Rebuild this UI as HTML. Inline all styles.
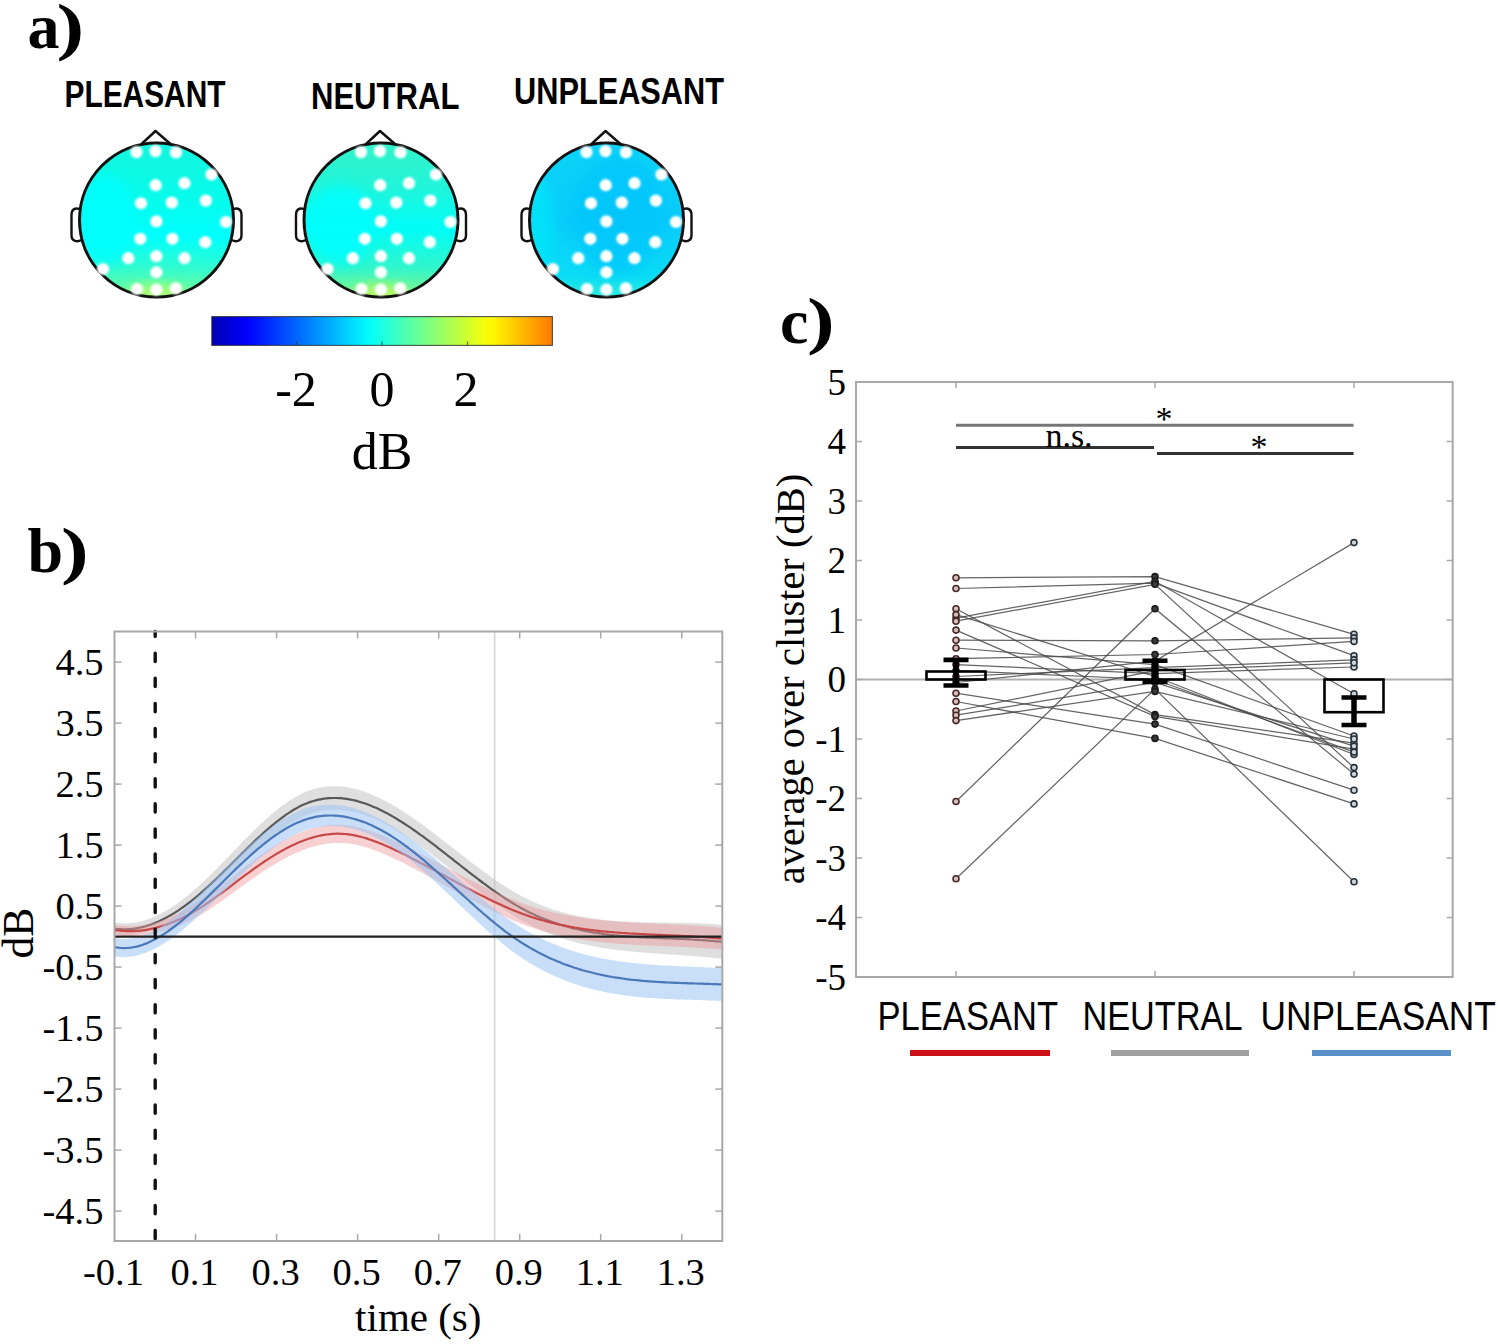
<!DOCTYPE html><html><head><meta charset="utf-8"><style>html,body{margin:0;padding:0;background:#fff;overflow:hidden;width:1498px;height:1344px;}svg{display:block}</style></head><body><svg width="1498" height="1344" viewBox="0 0 1498 1344"><text x="27.6" y="48.0" font-family='"Liberation Serif", serif' font-size="64" font-weight="bold" text-anchor="start" fill="#000" >a</text>
<text transform="translate(56.4,48) scale(1.3,1)" font-family='"Liberation Serif", serif' font-size="64" font-weight="bold">)</text>
<text x="145.0" y="106.5" font-family='"Liberation Sans", sans-serif' font-size="37" font-weight="bold" text-anchor="middle" textLength="161.0" lengthAdjust="spacingAndGlyphs">PLEASANT</text>
<text x="385.2" y="109.2" font-family='"Liberation Sans", sans-serif' font-size="37" font-weight="bold" text-anchor="middle" textLength="148.5" lengthAdjust="spacingAndGlyphs">NEUTRAL</text>
<text x="619.0" y="104.3" font-family='"Liberation Sans", sans-serif' font-size="37" font-weight="bold" text-anchor="middle" textLength="210.0" lengthAdjust="spacingAndGlyphs">UNPLEASANT</text>
<defs>
<filter id="blur1" x="-50%" y="-50%" width="200%" height="200%"><feGaussianBlur stdDeviation="1.1"/></filter>
<filter id="blur2" x="-20%" y="-20%" width="140%" height="140%"><feGaussianBlur stdDeviation="6"/></filter>
<clipPath id="clipp"><circle cx="156.5" cy="220" r="77"/></clipPath>
<clipPath id="clipn"><circle cx="381" cy="220" r="77"/></clipPath>
<clipPath id="clipu"><circle cx="606.5" cy="220" r="77"/></clipPath>
<linearGradient id="gp" x1="0" y1="0" x2="0" y2="1">
<stop offset="0" stop-color="#14f5dc"/><stop offset="0.35" stop-color="#08fbeb"/><stop offset="0.6" stop-color="#00fffd"/><stop offset="0.8" stop-color="#30fbd0"/><stop offset="1" stop-color="#80ff90"/></linearGradient>
<linearGradient id="gn" x1="0" y1="0" x2="0" y2="1">
<stop offset="0" stop-color="#34f2c8"/><stop offset="0.3" stop-color="#20f5da"/><stop offset="0.55" stop-color="#00fcf8"/><stop offset="0.8" stop-color="#30f6cc"/><stop offset="1" stop-color="#90f880"/></linearGradient>
<linearGradient id="gu" x1="0" y1="0" x2="0" y2="1">
<stop offset="0" stop-color="#0cd4f8"/><stop offset="0.5" stop-color="#08cbfa"/><stop offset="0.85" stop-color="#0adcf6"/><stop offset="1" stop-color="#30f0d8"/></linearGradient>
<linearGradient id="jet" x1="0" y1="0" x2="1" y2="0">
<stop offset="0.000" stop-color="#0000b2"/>
<stop offset="0.025" stop-color="#0000c4"/>
<stop offset="0.050" stop-color="#0000d6"/>
<stop offset="0.075" stop-color="#0000e8"/>
<stop offset="0.100" stop-color="#0000fa"/>
<stop offset="0.125" stop-color="#000dff"/>
<stop offset="0.150" stop-color="#001fff"/>
<stop offset="0.175" stop-color="#0031ff"/>
<stop offset="0.200" stop-color="#0043ff"/>
<stop offset="0.225" stop-color="#0055ff"/>
<stop offset="0.250" stop-color="#0067ff"/>
<stop offset="0.275" stop-color="#0079ff"/>
<stop offset="0.300" stop-color="#008bff"/>
<stop offset="0.325" stop-color="#009dff"/>
<stop offset="0.350" stop-color="#00afff"/>
<stop offset="0.375" stop-color="#00c1ff"/>
<stop offset="0.400" stop-color="#00d3ff"/>
<stop offset="0.425" stop-color="#00e5ff"/>
<stop offset="0.450" stop-color="#00f7ff"/>
<stop offset="0.475" stop-color="#0afff4"/>
<stop offset="0.500" stop-color="#1cffe2"/>
<stop offset="0.525" stop-color="#2effd0"/>
<stop offset="0.550" stop-color="#40ffbe"/>
<stop offset="0.575" stop-color="#52ffac"/>
<stop offset="0.600" stop-color="#64ff9a"/>
<stop offset="0.625" stop-color="#76ff88"/>
<stop offset="0.650" stop-color="#88ff76"/>
<stop offset="0.675" stop-color="#9aff64"/>
<stop offset="0.700" stop-color="#acff52"/>
<stop offset="0.725" stop-color="#beff40"/>
<stop offset="0.750" stop-color="#d0ff2e"/>
<stop offset="0.775" stop-color="#e2ff1c"/>
<stop offset="0.800" stop-color="#f4ff0a"/>
<stop offset="0.825" stop-color="#fff700"/>
<stop offset="0.850" stop-color="#ffe500"/>
<stop offset="0.875" stop-color="#ffd300"/>
<stop offset="0.900" stop-color="#ffc100"/>
<stop offset="0.925" stop-color="#ffaf00"/>
<stop offset="0.950" stop-color="#ff9d00"/>
<stop offset="0.975" stop-color="#ff8b00"/>
<stop offset="1.000" stop-color="#ff7900"/>
</linearGradient>
</defs>
<path d="M81.5,210 C77.5,207.5 71.5,207.5 71.5,215 L71.5,235 C71.5,242 77.5,242 81.5,240" fill="#fff" stroke="#111" stroke-width="2.4"/>
<path d="M231.5,210 C235.5,207.5 241.5,207.5 241.5,215 L241.5,235 C241.5,242 235.5,242 231.5,240" fill="#fff" stroke="#111" stroke-width="2.4"/>
<path d="M141.5,144 L155.5,131 L170.5,144" fill="#fff" stroke="#111" stroke-width="2.4" stroke-linejoin="round"/>
<g clip-path="url(#clipp)"><rect x="76.5" y="140" width="160" height="160" fill="url(#gp)"/>
<ellipse cx="106.5" cy="220" rx="30" ry="45" fill="#00ffff" opacity="0.8" filter="url(#blur2)"/>
<ellipse cx="156.5" cy="298" rx="30" ry="14" fill="#b0ff70" opacity="0.9" filter="url(#blur2)"/>
</g>
<circle cx="156.5" cy="220" r="77" fill="none" stroke="#111" stroke-width="3"/>
<g filter="url(#blur1)" fill="#fff">
<circle cx="136.5" cy="152.1" r="6.1"/>
<circle cx="155.5" cy="151.1" r="6.1"/>
<circle cx="176.0" cy="152.4" r="6.1"/>
<circle cx="211.5" cy="174.5" r="6.1"/>
<circle cx="155.7" cy="185.2" r="6.1"/>
<circle cx="184.5" cy="183.2" r="6.1"/>
<circle cx="141.0" cy="203.3" r="6.1"/>
<circle cx="171.8" cy="202.6" r="6.1"/>
<circle cx="205.9" cy="200.6" r="6.1"/>
<circle cx="156.4" cy="221.4" r="6.1"/>
<circle cx="226.0" cy="222.0" r="6.1"/>
<circle cx="140.3" cy="238.8" r="6.1"/>
<circle cx="172.4" cy="238.8" r="6.1"/>
<circle cx="205.3" cy="242.2" r="6.1"/>
<circle cx="128.3" cy="258.2" r="6.1"/>
<circle cx="156.4" cy="256.2" r="6.1"/>
<circle cx="184.5" cy="258.2" r="6.1"/>
<circle cx="103.0" cy="269.0" r="6.1"/>
<circle cx="156.4" cy="272.3" r="6.1"/>
<circle cx="137.0" cy="289.0" r="6.1"/>
<circle cx="156.4" cy="289.7" r="6.1"/>
<circle cx="175.8" cy="288.4" r="6.1"/>
</g>
<path d="M306.0,210 C302.0,207.5 296.0,207.5 296.0,215 L296.0,235 C296.0,242 302.0,242 306.0,240" fill="#fff" stroke="#111" stroke-width="2.4"/>
<path d="M456.0,210 C460.0,207.5 466.0,207.5 466.0,215 L466.0,235 C466.0,242 460.0,242 456.0,240" fill="#fff" stroke="#111" stroke-width="2.4"/>
<path d="M366,144 L380,131 L395,144" fill="#fff" stroke="#111" stroke-width="2.4" stroke-linejoin="round"/>
<g clip-path="url(#clipn)"><rect x="301" y="140" width="160" height="160" fill="url(#gn)"/>
<ellipse cx="341" cy="225" rx="35" ry="40" fill="#00ffff" opacity="0.8" filter="url(#blur2)"/>
<ellipse cx="381" cy="298" rx="28" ry="14" fill="#b8f860" opacity="0.9" filter="url(#blur2)"/>
</g>
<circle cx="381" cy="220" r="77" fill="none" stroke="#111" stroke-width="3"/>
<g filter="url(#blur1)" fill="#fff">
<circle cx="361.0" cy="152.1" r="6.1"/>
<circle cx="380.0" cy="151.1" r="6.1"/>
<circle cx="400.5" cy="152.4" r="6.1"/>
<circle cx="436.0" cy="174.5" r="6.1"/>
<circle cx="380.2" cy="185.2" r="6.1"/>
<circle cx="409.0" cy="183.2" r="6.1"/>
<circle cx="365.5" cy="203.3" r="6.1"/>
<circle cx="396.3" cy="202.6" r="6.1"/>
<circle cx="430.4" cy="200.6" r="6.1"/>
<circle cx="380.9" cy="221.4" r="6.1"/>
<circle cx="450.5" cy="222.0" r="6.1"/>
<circle cx="364.8" cy="238.8" r="6.1"/>
<circle cx="396.9" cy="238.8" r="6.1"/>
<circle cx="429.8" cy="242.2" r="6.1"/>
<circle cx="352.8" cy="258.2" r="6.1"/>
<circle cx="380.9" cy="256.2" r="6.1"/>
<circle cx="409.0" cy="258.2" r="6.1"/>
<circle cx="327.5" cy="269.0" r="6.1"/>
<circle cx="380.9" cy="272.3" r="6.1"/>
<circle cx="361.5" cy="289.0" r="6.1"/>
<circle cx="380.9" cy="289.7" r="6.1"/>
<circle cx="400.3" cy="288.4" r="6.1"/>
</g>
<path d="M531.5,210 C527.5,207.5 521.5,207.5 521.5,215 L521.5,235 C521.5,242 527.5,242 531.5,240" fill="#fff" stroke="#111" stroke-width="2.4"/>
<path d="M681.5,210 C685.5,207.5 691.5,207.5 691.5,215 L691.5,235 C691.5,242 685.5,242 681.5,240" fill="#fff" stroke="#111" stroke-width="2.4"/>
<path d="M591.5,144 L605.5,131 L620.5,144" fill="#fff" stroke="#111" stroke-width="2.4" stroke-linejoin="round"/>
<g clip-path="url(#clipu)"><rect x="526.5" y="140" width="160" height="160" fill="url(#gu)"/>
<ellipse cx="618.5" cy="215" rx="45" ry="60" fill="#02c4fc" opacity="0.6" filter="url(#blur2)"/>
<ellipse cx="536.5" cy="230" rx="18" ry="55" fill="#00e6fa" opacity="0.75" filter="url(#blur2)"/>
</g>
<circle cx="606.5" cy="220" r="77" fill="none" stroke="#111" stroke-width="3"/>
<g filter="url(#blur1)" fill="#fff">
<circle cx="586.5" cy="152.1" r="6.1"/>
<circle cx="605.5" cy="151.1" r="6.1"/>
<circle cx="626.0" cy="152.4" r="6.1"/>
<circle cx="661.5" cy="174.5" r="6.1"/>
<circle cx="605.7" cy="185.2" r="6.1"/>
<circle cx="634.5" cy="183.2" r="6.1"/>
<circle cx="591.0" cy="203.3" r="6.1"/>
<circle cx="621.8" cy="202.6" r="6.1"/>
<circle cx="655.9" cy="200.6" r="6.1"/>
<circle cx="606.4" cy="221.4" r="6.1"/>
<circle cx="676.0" cy="222.0" r="6.1"/>
<circle cx="590.3" cy="238.8" r="6.1"/>
<circle cx="622.4" cy="238.8" r="6.1"/>
<circle cx="655.3" cy="242.2" r="6.1"/>
<circle cx="578.3" cy="258.2" r="6.1"/>
<circle cx="606.4" cy="256.2" r="6.1"/>
<circle cx="634.5" cy="258.2" r="6.1"/>
<circle cx="553.0" cy="269.0" r="6.1"/>
<circle cx="606.4" cy="272.3" r="6.1"/>
<circle cx="587.0" cy="289.0" r="6.1"/>
<circle cx="606.4" cy="289.7" r="6.1"/>
<circle cx="625.8" cy="288.4" r="6.1"/>
</g>
<rect x="211.8" y="316.6" width="340.6" height="28.8" fill="url(#jet)" stroke="#2a2a2a" stroke-width="1.1" stroke-opacity="0.8"/>
<line x1="296.5" y1="341.5" x2="296.5" y2="345" stroke="#333" stroke-width="1.2" stroke-opacity="0.7"/>
<line x1="382" y1="341.5" x2="382" y2="345" stroke="#333" stroke-width="1.2" stroke-opacity="0.7"/>
<line x1="467.5" y1="341.5" x2="467.5" y2="345" stroke="#333" stroke-width="1.2" stroke-opacity="0.7"/>
<text x="296.0" y="406.0" font-family='"Liberation Serif", serif' font-size="50" font-weight="normal" text-anchor="middle" fill="#000" >-2</text>
<text x="382.0" y="406.0" font-family='"Liberation Serif", serif' font-size="50" font-weight="normal" text-anchor="middle" fill="#000" >0</text>
<text x="466.0" y="406.0" font-family='"Liberation Serif", serif' font-size="50" font-weight="normal" text-anchor="middle" fill="#000" >2</text>
<text x="382.0" y="469.0" font-family='"Liberation Serif", serif' font-size="52" font-weight="normal" text-anchor="middle" fill="#000" >dB</text>
<text x="27.6" y="572.0" font-family='"Liberation Serif", serif' font-size="64" font-weight="bold" text-anchor="start" fill="#000" >b</text>
<text transform="translate(60.9,571.5) scale(1.3,1)" font-family='"Liberation Serif", serif' font-size="64" font-weight="bold">)</text>
<rect x="114.5" y="631.5" width="607.8" height="609.5" fill="#fff" stroke="none"/>
<line x1="494.6" y1="631.5" x2="494.6" y2="1241" stroke="#d4d4d4" stroke-width="1.6"/>
<path d="M114.5,922.5 L116.5,922.8 L118.5,923.0 L120.5,923.2 L122.5,923.3 L124.5,923.4 L126.5,923.4 L128.5,923.3 L130.5,923.1 L132.5,922.9 L134.5,922.7 L136.5,922.3 L138.5,921.9 L140.5,921.5 L142.5,920.9 L144.5,920.4 L146.5,919.7 L148.5,919.1 L150.5,918.3 L152.5,917.5 L154.5,916.7 L156.5,915.8 L158.5,914.8 L160.5,913.8 L162.5,912.7 L164.5,911.6 L166.5,910.5 L168.5,909.3 L170.5,908.0 L172.5,906.8 L174.5,905.4 L176.5,904.0 L178.5,902.6 L180.5,901.2 L182.5,899.6 L184.5,898.1 L186.5,896.5 L188.5,894.9 L190.5,893.2 L192.5,891.5 L194.5,889.8 L196.5,888.1 L198.5,886.3 L200.5,884.4 L202.5,882.6 L204.5,880.7 L206.5,878.8 L208.5,876.8 L210.5,874.9 L212.5,872.9 L214.5,870.9 L216.5,868.9 L218.5,866.9 L220.5,864.8 L222.5,862.8 L224.5,860.7 L226.5,858.7 L228.5,856.6 L230.5,854.5 L232.5,852.4 L234.5,850.4 L236.5,848.3 L238.5,846.2 L240.5,844.2 L242.5,842.1 L244.5,840.1 L246.5,838.0 L248.5,836.0 L250.5,834.0 L252.5,832.0 L254.5,830.1 L256.5,828.1 L258.5,826.2 L260.5,824.3 L262.5,822.4 L264.5,820.6 L266.5,818.8 L268.5,817.0 L270.5,815.2 L272.5,813.5 L274.5,811.8 L276.5,810.2 L278.5,808.6 L280.5,807.1 L282.5,805.5 L284.5,804.1 L286.5,802.7 L288.5,801.3 L290.5,800.0 L292.5,798.7 L294.5,797.5 L296.5,796.4 L298.5,795.3 L300.5,794.2 L302.5,793.3 L304.5,792.4 L306.5,791.5 L308.5,790.8 L310.5,790.1 L312.5,789.4 L314.5,788.8 L316.5,788.3 L318.5,787.8 L320.5,787.4 L322.5,787.1 L324.5,786.8 L326.5,786.6 L328.5,786.4 L330.5,786.3 L332.5,786.2 L334.5,786.2 L336.5,786.2 L338.5,786.3 L340.5,786.4 L342.5,786.6 L344.5,786.9 L346.5,787.1 L348.5,787.5 L350.5,787.9 L352.5,788.3 L354.5,788.8 L356.5,789.3 L358.5,789.8 L360.5,790.4 L362.5,791.0 L364.5,791.7 L366.5,792.4 L368.5,793.2 L370.5,794.0 L372.5,794.8 L374.5,795.7 L376.5,796.6 L378.5,797.5 L380.5,798.5 L382.5,799.5 L384.5,800.5 L386.5,801.5 L388.5,802.6 L390.5,803.7 L392.5,804.9 L394.5,806.1 L396.5,807.3 L398.5,808.5 L400.5,809.7 L402.5,811.0 L404.5,812.3 L406.5,813.6 L408.5,814.9 L410.5,816.3 L412.5,817.7 L414.5,819.0 L416.5,820.5 L418.5,821.9 L420.5,823.3 L422.5,824.8 L424.5,826.2 L426.5,827.7 L428.5,829.2 L430.5,830.7 L432.5,832.2 L434.5,833.7 L436.5,835.3 L438.5,836.8 L440.5,838.4 L442.5,839.9 L444.5,841.5 L446.5,843.0 L448.5,844.6 L450.5,846.1 L452.5,847.7 L454.5,849.3 L456.5,850.8 L458.5,852.4 L460.5,854.0 L462.5,855.5 L464.5,857.1 L466.5,858.6 L468.5,860.2 L470.5,861.7 L472.5,863.3 L474.5,864.8 L476.5,866.3 L478.5,867.8 L480.5,869.3 L482.5,870.8 L484.5,872.2 L486.5,873.7 L488.5,875.1 L490.5,876.6 L492.5,878.0 L494.5,879.4 L496.5,880.7 L498.5,882.1 L500.5,883.4 L502.5,884.7 L504.5,886.0 L506.5,887.3 L508.5,888.5 L510.5,889.8 L512.5,891.0 L514.5,892.1 L516.5,893.3 L518.5,894.4 L520.5,895.5 L522.5,896.5 L524.5,897.6 L526.5,898.6 L528.5,899.6 L530.5,900.5 L532.5,901.4 L534.5,902.3 L536.5,903.2 L538.5,904.0 L540.5,904.8 L542.5,905.6 L544.5,906.4 L546.5,907.2 L548.5,907.9 L550.5,908.6 L552.5,909.2 L554.5,909.9 L556.5,910.5 L558.5,911.1 L560.5,911.7 L562.5,912.3 L564.5,912.8 L566.5,913.3 L568.5,913.8 L570.5,914.3 L572.5,914.8 L574.5,915.2 L576.5,915.7 L578.5,916.1 L580.5,916.5 L582.5,916.8 L584.5,917.2 L586.5,917.5 L588.5,917.9 L590.5,918.2 L592.5,918.5 L594.5,918.8 L596.5,919.0 L598.5,919.3 L600.5,919.5 L602.5,919.8 L604.5,920.0 L606.5,920.2 L608.5,920.4 L610.5,920.5 L612.5,920.7 L614.5,920.9 L616.5,921.0 L618.5,921.2 L620.5,921.3 L622.5,921.4 L624.5,921.5 L626.5,921.6 L628.5,921.7 L630.5,921.8 L632.5,921.9 L634.5,922.0 L636.5,922.0 L638.5,922.1 L640.5,922.2 L642.5,922.2 L644.5,922.3 L646.5,922.3 L648.5,922.3 L650.5,922.4 L652.5,922.4 L654.5,922.4 L656.5,922.5 L658.5,922.5 L660.5,922.5 L662.5,922.6 L664.5,922.6 L666.5,922.6 L668.5,922.6 L670.5,922.7 L672.5,922.7 L674.5,922.7 L676.5,922.7 L678.5,922.8 L680.5,922.8 L682.5,922.8 L684.5,922.9 L686.5,922.9 L688.5,923.0 L690.5,923.0 L692.5,923.1 L694.5,923.2 L696.5,923.2 L698.5,923.3 L700.5,923.4 L702.5,923.5 L704.5,923.6 L706.5,923.7 L708.5,923.8 L710.5,923.9 L712.5,924.1 L714.5,924.2 L716.5,924.4 L718.5,924.5 L720.5,924.7 L722.3,924.9 L722.3,959.0 L720.5,958.8 L718.5,958.5 L716.5,958.3 L714.5,958.0 L712.5,957.8 L710.5,957.6 L708.5,957.4 L706.5,957.2 L704.5,957.0 L702.5,956.8 L700.5,956.6 L698.5,956.5 L696.5,956.3 L694.5,956.1 L692.5,956.0 L690.5,955.8 L688.5,955.7 L686.5,955.5 L684.5,955.4 L682.5,955.2 L680.5,955.1 L678.5,955.0 L676.5,954.8 L674.5,954.7 L672.5,954.6 L670.5,954.4 L668.5,954.3 L666.5,954.2 L664.5,954.1 L662.5,953.9 L660.5,953.8 L658.5,953.7 L656.5,953.5 L654.5,953.4 L652.5,953.3 L650.5,953.1 L648.5,953.0 L646.5,952.8 L644.5,952.7 L642.5,952.5 L640.5,952.3 L638.5,952.2 L636.5,952.0 L634.5,951.8 L632.5,951.6 L630.5,951.4 L628.5,951.2 L626.5,951.0 L624.5,950.8 L622.5,950.6 L620.5,950.4 L618.5,950.1 L616.5,949.9 L614.5,949.6 L612.5,949.4 L610.5,949.1 L608.5,948.8 L606.5,948.5 L604.5,948.2 L602.5,947.9 L600.5,947.5 L598.5,947.2 L596.5,946.8 L594.5,946.4 L592.5,946.0 L590.5,945.6 L588.5,945.2 L586.5,944.8 L584.5,944.3 L582.5,943.9 L580.5,943.4 L578.5,942.9 L576.5,942.4 L574.5,941.9 L572.5,941.3 L570.5,940.8 L568.5,940.2 L566.5,939.6 L564.5,939.0 L562.5,938.3 L560.5,937.7 L558.5,937.0 L556.5,936.3 L554.5,935.6 L552.5,934.8 L550.5,934.1 L548.5,933.3 L546.5,932.5 L544.5,931.7 L542.5,930.8 L540.5,929.9 L538.5,929.0 L536.5,928.1 L534.5,927.2 L532.5,926.2 L530.5,925.2 L528.5,924.2 L526.5,923.1 L524.5,922.1 L522.5,921.0 L520.5,919.8 L518.5,918.7 L516.5,917.5 L514.5,916.3 L512.5,915.1 L510.5,913.8 L508.5,912.5 L506.5,911.2 L504.5,909.9 L502.5,908.6 L500.5,907.2 L498.5,905.8 L496.5,904.4 L494.5,903.0 L492.5,901.6 L490.5,900.1 L488.5,898.6 L486.5,897.2 L484.5,895.7 L482.5,894.2 L480.5,892.6 L478.5,891.1 L476.5,889.6 L474.5,888.0 L472.5,886.5 L470.5,884.9 L468.5,883.4 L466.5,881.8 L464.5,880.2 L462.5,878.6 L460.5,877.1 L458.5,875.5 L456.5,873.9 L454.5,872.3 L452.5,870.7 L450.5,869.1 L448.5,867.6 L446.5,866.0 L444.5,864.4 L442.5,862.9 L440.5,861.3 L438.5,859.7 L436.5,858.2 L434.5,856.7 L432.5,855.1 L430.5,853.6 L428.5,852.1 L426.5,850.6 L424.5,849.1 L422.5,847.7 L420.5,846.2 L418.5,844.8 L416.5,843.4 L414.5,841.9 L412.5,840.6 L410.5,839.2 L408.5,837.8 L406.5,836.5 L404.5,835.2 L402.5,833.9 L400.5,832.7 L398.5,831.4 L396.5,830.2 L394.5,829.0 L392.5,827.9 L390.5,826.8 L388.5,825.7 L386.5,824.6 L384.5,823.5 L382.5,822.5 L380.5,821.5 L378.5,820.6 L376.5,819.7 L374.5,818.8 L372.5,818.0 L370.5,817.2 L368.5,816.4 L366.5,815.7 L364.5,815.0 L362.5,814.3 L360.5,813.7 L358.5,813.1 L356.5,812.6 L354.5,812.1 L352.5,811.7 L350.5,811.3 L348.5,810.9 L346.5,810.6 L344.5,810.3 L342.5,810.1 L340.5,809.9 L338.5,809.8 L336.5,809.7 L334.5,809.7 L332.5,809.8 L330.5,809.8 L328.5,810.0 L326.5,810.2 L324.5,810.4 L322.5,810.7 L320.5,811.1 L318.5,811.5 L316.5,812.0 L314.5,812.5 L312.5,813.1 L310.5,813.7 L308.5,814.4 L306.5,815.2 L304.5,816.0 L302.5,816.9 L300.5,817.9 L298.5,818.9 L296.5,820.0 L294.5,821.1 L292.5,822.3 L290.5,823.6 L288.5,824.8 L286.5,826.2 L284.5,827.6 L282.5,829.0 L280.5,830.5 L278.5,832.0 L276.5,833.5 L274.5,835.1 L272.5,836.8 L270.5,838.4 L268.5,840.1 L266.5,841.8 L264.5,843.6 L262.5,845.3 L260.5,847.1 L258.5,848.9 L256.5,850.8 L254.5,852.6 L252.5,854.5 L250.5,856.4 L248.5,858.2 L246.5,860.1 L244.5,862.1 L242.5,864.0 L240.5,865.9 L238.5,867.8 L236.5,869.7 L234.5,871.6 L232.5,873.6 L230.5,875.5 L228.5,877.4 L226.5,879.3 L224.5,881.1 L222.5,883.0 L220.5,884.9 L218.5,886.7 L216.5,888.5 L214.5,890.3 L212.5,892.1 L210.5,893.9 L208.5,895.6 L206.5,897.3 L204.5,899.0 L202.5,900.7 L200.5,902.3 L198.5,903.9 L196.5,905.5 L194.5,907.0 L192.5,908.5 L190.5,910.0 L188.5,911.4 L186.5,912.8 L184.5,914.1 L182.5,915.4 L180.5,916.7 L178.5,918.0 L176.5,919.2 L174.5,920.3 L172.5,921.4 L170.5,922.5 L168.5,923.5 L166.5,924.5 L164.5,925.5 L162.5,926.4 L160.5,927.3 L158.5,928.1 L156.5,928.9 L154.5,929.6 L152.5,930.3 L150.5,931.0 L148.5,931.6 L146.5,932.2 L144.5,932.7 L142.5,933.1 L140.5,933.6 L138.5,933.9 L136.5,934.3 L134.5,934.5 L132.5,934.8 L130.5,935.0 L128.5,935.1 L126.5,935.2 L124.5,935.2 L122.5,935.2 L120.5,935.1 L118.5,935.0 L116.5,934.8 L114.5,934.6Z" fill="#b8b8b8" fill-opacity="0.45" stroke="none"/>
<path d="M114.5,928.5 L116.5,928.8 L118.5,929.0 L120.5,929.2 L122.5,929.3 L124.5,929.3 L126.5,929.3 L128.5,929.2 L130.5,929.1 L132.5,928.9 L134.5,928.6 L136.5,928.3 L138.5,927.9 L140.5,927.5 L142.5,927.1 L144.5,926.5 L146.5,926.0 L148.5,925.3 L150.5,924.7 L152.5,923.9 L154.5,923.2 L156.5,922.3 L158.5,921.5 L160.5,920.6 L162.5,919.6 L164.5,918.6 L166.5,917.5 L168.5,916.4 L170.5,915.3 L172.5,914.1 L174.5,912.9 L176.5,911.6 L178.5,910.3 L180.5,908.9 L182.5,907.5 L184.5,906.1 L186.5,904.7 L188.5,903.1 L190.5,901.6 L192.5,900.0 L194.5,898.4 L196.5,896.8 L198.5,895.1 L200.5,893.4 L202.5,891.6 L204.5,889.8 L206.5,888.0 L208.5,886.2 L210.5,884.4 L212.5,882.5 L214.5,880.6 L216.5,878.7 L218.5,876.8 L220.5,874.8 L222.5,872.9 L224.5,870.9 L226.5,868.9 L228.5,867.0 L230.5,865.0 L232.5,863.0 L234.5,861.0 L236.5,859.0 L238.5,857.0 L240.5,855.0 L242.5,853.0 L244.5,851.1 L246.5,849.1 L248.5,847.1 L250.5,845.2 L252.5,843.2 L254.5,841.3 L256.5,839.4 L258.5,837.6 L260.5,835.7 L262.5,833.9 L264.5,832.1 L266.5,830.3 L268.5,828.5 L270.5,826.8 L272.5,825.1 L274.5,823.5 L276.5,821.9 L278.5,820.3 L280.5,818.8 L282.5,817.3 L284.5,815.8 L286.5,814.4 L288.5,813.1 L290.5,811.8 L292.5,810.5 L294.5,809.3 L296.5,808.2 L298.5,807.1 L300.5,806.1 L302.5,805.1 L304.5,804.2 L306.5,803.4 L308.5,802.6 L310.5,801.9 L312.5,801.3 L314.5,800.7 L316.5,800.1 L318.5,799.7 L320.5,799.3 L322.5,798.9 L324.5,798.6 L326.5,798.4 L328.5,798.2 L330.5,798.1 L332.5,798.0 L334.5,798.0 L336.5,798.0 L338.5,798.1 L340.5,798.2 L342.5,798.4 L344.5,798.6 L346.5,798.9 L348.5,799.2 L350.5,799.6 L352.5,800.0 L354.5,800.4 L356.5,800.9 L358.5,801.5 L360.5,802.1 L362.5,802.7 L364.5,803.3 L366.5,804.0 L368.5,804.8 L370.5,805.6 L372.5,806.4 L374.5,807.2 L376.5,808.1 L378.5,809.0 L380.5,810.0 L382.5,811.0 L384.5,812.0 L386.5,813.1 L388.5,814.1 L390.5,815.2 L392.5,816.4 L394.5,817.5 L396.5,818.7 L398.5,820.0 L400.5,821.2 L402.5,822.5 L404.5,823.7 L406.5,825.1 L408.5,826.4 L410.5,827.7 L412.5,829.1 L414.5,830.5 L416.5,831.9 L418.5,833.3 L420.5,834.8 L422.5,836.2 L424.5,837.7 L426.5,839.2 L428.5,840.6 L430.5,842.2 L432.5,843.7 L434.5,845.2 L436.5,846.7 L438.5,848.3 L440.5,849.8 L442.5,851.4 L444.5,852.9 L446.5,854.5 L448.5,856.1 L450.5,857.6 L452.5,859.2 L454.5,860.8 L456.5,862.4 L458.5,863.9 L460.5,865.5 L462.5,867.1 L464.5,868.6 L466.5,870.2 L468.5,871.8 L470.5,873.3 L472.5,874.9 L474.5,876.4 L476.5,877.9 L478.5,879.5 L480.5,881.0 L482.5,882.5 L484.5,883.9 L486.5,885.4 L488.5,886.9 L490.5,888.3 L492.5,889.8 L494.5,891.2 L496.5,892.6 L498.5,893.9 L500.5,895.3 L502.5,896.6 L504.5,898.0 L506.5,899.3 L508.5,900.5 L510.5,901.8 L512.5,903.0 L514.5,904.2 L516.5,905.4 L518.5,906.5 L520.5,907.7 L522.5,908.8 L524.5,909.8 L526.5,910.9 L528.5,911.9 L530.5,912.9 L532.5,913.8 L534.5,914.8 L536.5,915.7 L538.5,916.5 L540.5,917.4 L542.5,918.2 L544.5,919.0 L546.5,919.8 L548.5,920.6 L550.5,921.3 L552.5,922.0 L554.5,922.7 L556.5,923.4 L558.5,924.1 L560.5,924.7 L562.5,925.3 L564.5,925.9 L566.5,926.5 L568.5,927.0 L570.5,927.6 L572.5,928.1 L574.5,928.6 L576.5,929.0 L578.5,929.5 L580.5,929.9 L582.5,930.4 L584.5,930.8 L586.5,931.2 L588.5,931.6 L590.5,931.9 L592.5,932.3 L594.5,932.6 L596.5,932.9 L598.5,933.2 L600.5,933.5 L602.5,933.8 L604.5,934.1 L606.5,934.3 L608.5,934.6 L610.5,934.8 L612.5,935.0 L614.5,935.3 L616.5,935.5 L618.5,935.7 L620.5,935.8 L622.5,936.0 L624.5,936.2 L626.5,936.3 L628.5,936.5 L630.5,936.6 L632.5,936.8 L634.5,936.9 L636.5,937.0 L638.5,937.1 L640.5,937.3 L642.5,937.4 L644.5,937.5 L646.5,937.6 L648.5,937.7 L650.5,937.7 L652.5,937.8 L654.5,937.9 L656.5,938.0 L658.5,938.1 L660.5,938.2 L662.5,938.2 L664.5,938.3 L666.5,938.4 L668.5,938.5 L670.5,938.5 L672.5,938.6 L674.5,938.7 L676.5,938.8 L678.5,938.9 L680.5,939.0 L682.5,939.0 L684.5,939.1 L686.5,939.2 L688.5,939.3 L690.5,939.4 L692.5,939.5 L694.5,939.6 L696.5,939.8 L698.5,939.9 L700.5,940.0 L702.5,940.1 L704.5,940.3 L706.5,940.4 L708.5,940.6 L710.5,940.8 L712.5,940.9 L714.5,941.1 L716.5,941.3 L718.5,941.5 L720.5,941.7 L722.3,941.9" fill="none" stroke="#595959" stroke-width="2.2" stroke-linejoin="round"/>
<path d="M114.5,924.8 L116.5,925.2 L118.5,925.4 L120.5,925.7 L122.5,925.9 L124.5,926.0 L126.5,926.1 L128.5,926.2 L130.5,926.2 L132.5,926.1 L134.5,926.0 L136.5,925.9 L138.5,925.7 L140.5,925.5 L142.5,925.2 L144.5,924.9 L146.5,924.6 L148.5,924.2 L150.5,923.7 L152.5,923.2 L154.5,922.7 L156.5,922.2 L158.5,921.6 L160.5,920.9 L162.5,920.2 L164.5,919.5 L166.5,918.7 L168.5,918.0 L170.5,917.1 L172.5,916.2 L174.5,915.3 L176.5,914.4 L178.5,913.4 L180.5,912.4 L182.5,911.3 L184.5,910.3 L186.5,909.1 L188.5,908.0 L190.5,906.8 L192.5,905.6 L194.5,904.3 L196.5,903.1 L198.5,901.7 L200.5,900.4 L202.5,899.0 L204.5,897.6 L206.5,896.2 L208.5,894.8 L210.5,893.3 L212.5,891.8 L214.5,890.3 L216.5,888.8 L218.5,887.3 L220.5,885.7 L222.5,884.2 L224.5,882.6 L226.5,881.1 L228.5,879.5 L230.5,877.9 L232.5,876.4 L234.5,874.8 L236.5,873.2 L238.5,871.6 L240.5,870.1 L242.5,868.5 L244.5,867.0 L246.5,865.4 L248.5,863.9 L250.5,862.4 L252.5,860.9 L254.5,859.4 L256.5,858.0 L258.5,856.5 L260.5,855.1 L262.5,853.7 L264.5,852.4 L266.5,851.0 L268.5,849.7 L270.5,848.4 L272.5,847.1 L274.5,845.9 L276.5,844.7 L278.5,843.5 L280.5,842.3 L282.5,841.2 L284.5,840.1 L286.5,839.0 L288.5,838.0 L290.5,837.0 L292.5,836.0 L294.5,835.1 L296.5,834.2 L298.5,833.3 L300.5,832.5 L302.5,831.7 L304.5,830.9 L306.5,830.2 L308.5,829.5 L310.5,828.9 L312.5,828.3 L314.5,827.7 L316.5,827.2 L318.5,826.7 L320.5,826.3 L322.5,825.9 L324.5,825.6 L326.5,825.3 L328.5,825.1 L330.5,824.9 L332.5,824.7 L334.5,824.6 L336.5,824.5 L338.5,824.5 L340.5,824.6 L342.5,824.7 L344.5,824.9 L346.5,825.1 L348.5,825.3 L350.5,825.6 L352.5,825.9 L354.5,826.3 L356.5,826.7 L358.5,827.2 L360.5,827.7 L362.5,828.2 L364.5,828.8 L366.5,829.4 L368.5,830.1 L370.5,830.7 L372.5,831.4 L374.5,832.2 L376.5,832.9 L378.5,833.7 L380.5,834.5 L382.5,835.3 L384.5,836.2 L386.5,837.1 L388.5,838.0 L390.5,838.9 L392.5,839.8 L394.5,840.7 L396.5,841.7 L398.5,842.6 L400.5,843.6 L402.5,844.6 L404.5,845.6 L406.5,846.6 L408.5,847.6 L410.5,848.6 L412.5,849.6 L414.5,850.6 L416.5,851.7 L418.5,852.7 L420.5,853.7 L422.5,854.8 L424.5,855.8 L426.5,856.9 L428.5,857.9 L430.5,859.0 L432.5,860.1 L434.5,861.1 L436.5,862.2 L438.5,863.3 L440.5,864.3 L442.5,865.4 L444.5,866.5 L446.5,867.5 L448.5,868.6 L450.5,869.7 L452.5,870.7 L454.5,871.8 L456.5,872.8 L458.5,873.9 L460.5,874.9 L462.5,876.0 L464.5,877.0 L466.5,878.1 L468.5,879.1 L470.5,880.1 L472.5,881.1 L474.5,882.1 L476.5,883.1 L478.5,884.1 L480.5,885.1 L482.5,886.1 L484.5,887.1 L486.5,888.1 L488.5,889.0 L490.5,890.0 L492.5,890.9 L494.5,891.8 L496.5,892.7 L498.5,893.6 L500.5,894.5 L502.5,895.4 L504.5,896.2 L506.5,897.1 L508.5,897.9 L510.5,898.7 L512.5,899.5 L514.5,900.3 L516.5,901.1 L518.5,901.9 L520.5,902.6 L522.5,903.3 L524.5,904.0 L526.5,904.7 L528.5,905.4 L530.5,906.1 L532.5,906.7 L534.5,907.3 L536.5,907.9 L538.5,908.5 L540.5,909.1 L542.5,909.6 L544.5,910.2 L546.5,910.7 L548.5,911.2 L550.5,911.7 L552.5,912.2 L554.5,912.7 L556.5,913.1 L558.5,913.5 L560.5,914.0 L562.5,914.4 L564.5,914.8 L566.5,915.2 L568.5,915.5 L570.5,915.9 L572.5,916.3 L574.5,916.6 L576.5,916.9 L578.5,917.2 L580.5,917.5 L582.5,917.8 L584.5,918.1 L586.5,918.4 L588.5,918.7 L590.5,918.9 L592.5,919.2 L594.5,919.4 L596.5,919.6 L598.5,919.8 L600.5,920.0 L602.5,920.3 L604.5,920.4 L606.5,920.6 L608.5,920.8 L610.5,921.0 L612.5,921.2 L614.5,921.3 L616.5,921.5 L618.5,921.6 L620.5,921.8 L622.5,921.9 L624.5,922.0 L626.5,922.2 L628.5,922.3 L630.5,922.4 L632.5,922.5 L634.5,922.6 L636.5,922.7 L638.5,922.8 L640.5,922.9 L642.5,923.0 L644.5,923.1 L646.5,923.2 L648.5,923.3 L650.5,923.4 L652.5,923.5 L654.5,923.6 L656.5,923.7 L658.5,923.8 L660.5,923.9 L662.5,923.9 L664.5,924.0 L666.5,924.1 L668.5,924.2 L670.5,924.3 L672.5,924.4 L674.5,924.5 L676.5,924.6 L678.5,924.7 L680.5,924.8 L682.5,924.9 L684.5,925.0 L686.5,925.1 L688.5,925.2 L690.5,925.3 L692.5,925.4 L694.5,925.5 L696.5,925.6 L698.5,925.8 L700.5,925.9 L702.5,926.0 L704.5,926.2 L706.5,926.3 L708.5,926.5 L710.5,926.7 L712.5,926.8 L714.5,927.0 L716.5,927.2 L718.5,927.4 L720.5,927.6 L722.3,927.8 L722.3,949.7 L720.5,949.5 L718.5,949.3 L716.5,949.1 L714.5,948.9 L712.5,948.8 L710.5,948.6 L708.5,948.5 L706.5,948.3 L704.5,948.2 L702.5,948.1 L700.5,947.9 L698.5,947.8 L696.5,947.7 L694.5,947.6 L692.5,947.5 L690.5,947.4 L688.5,947.2 L686.5,947.1 L684.5,947.1 L682.5,947.0 L680.5,946.9 L678.5,946.8 L676.5,946.7 L674.5,946.6 L672.5,946.5 L670.5,946.4 L668.5,946.3 L666.5,946.3 L664.5,946.2 L662.5,946.1 L660.5,946.0 L658.5,945.9 L656.5,945.9 L654.5,945.8 L652.5,945.7 L650.5,945.6 L648.5,945.5 L646.5,945.4 L644.5,945.3 L642.5,945.2 L640.5,945.1 L638.5,945.0 L636.5,944.9 L634.5,944.8 L632.5,944.7 L630.5,944.6 L628.5,944.4 L626.5,944.3 L624.5,944.2 L622.5,944.0 L620.5,943.9 L618.5,943.7 L616.5,943.6 L614.5,943.4 L612.5,943.3 L610.5,943.1 L608.5,942.9 L606.5,942.7 L604.5,942.5 L602.5,942.3 L600.5,942.1 L598.5,941.9 L596.5,941.6 L594.5,941.4 L592.5,941.1 L590.5,940.9 L588.5,940.6 L586.5,940.3 L584.5,940.0 L582.5,939.7 L580.5,939.4 L578.5,939.1 L576.5,938.7 L574.5,938.4 L572.5,938.0 L570.5,937.6 L568.5,937.2 L566.5,936.8 L564.5,936.4 L562.5,936.0 L560.5,935.6 L558.5,935.1 L556.5,934.6 L554.5,934.2 L552.5,933.7 L550.5,933.1 L548.5,932.6 L546.5,932.1 L544.5,931.5 L542.5,930.9 L540.5,930.3 L538.5,929.7 L536.5,929.1 L534.5,928.4 L532.5,927.8 L530.5,927.1 L528.5,926.4 L526.5,925.7 L524.5,924.9 L522.5,924.2 L520.5,923.4 L518.5,922.6 L516.5,921.8 L514.5,921.0 L512.5,920.2 L510.5,919.3 L508.5,918.4 L506.5,917.5 L504.5,916.6 L502.5,915.7 L500.5,914.8 L498.5,913.8 L496.5,912.9 L494.5,911.9 L492.5,910.9 L490.5,909.9 L488.5,908.9 L486.5,907.9 L484.5,906.9 L482.5,905.9 L480.5,904.8 L478.5,903.8 L476.5,902.7 L474.5,901.7 L472.5,900.6 L470.5,899.5 L468.5,898.5 L466.5,897.4 L464.5,896.3 L462.5,895.2 L460.5,894.1 L458.5,893.0 L456.5,891.9 L454.5,890.8 L452.5,889.6 L450.5,888.5 L448.5,887.4 L446.5,886.3 L444.5,885.2 L442.5,884.1 L440.5,883.0 L438.5,881.9 L436.5,880.7 L434.5,879.6 L432.5,878.5 L430.5,877.4 L428.5,876.3 L426.5,875.2 L424.5,874.2 L422.5,873.1 L420.5,872.0 L418.5,870.9 L416.5,869.9 L414.5,868.8 L412.5,867.7 L410.5,866.7 L408.5,865.7 L406.5,864.6 L404.5,863.6 L402.5,862.6 L400.5,861.6 L398.5,860.6 L396.5,859.7 L394.5,858.7 L392.5,857.8 L390.5,856.8 L388.5,855.9 L386.5,855.0 L384.5,854.2 L382.5,853.3 L380.5,852.5 L378.5,851.7 L376.5,850.9 L374.5,850.2 L372.5,849.4 L370.5,848.7 L368.5,848.1 L366.5,847.5 L364.5,846.9 L362.5,846.3 L360.5,845.8 L358.5,845.3 L356.5,844.9 L354.5,844.5 L352.5,844.1 L350.5,843.8 L348.5,843.5 L346.5,843.3 L344.5,843.1 L342.5,843.0 L340.5,842.9 L338.5,842.9 L336.5,842.9 L334.5,843.0 L332.5,843.1 L330.5,843.3 L328.5,843.5 L326.5,843.7 L324.5,844.1 L322.5,844.4 L320.5,844.8 L318.5,845.3 L316.5,845.8 L314.5,846.3 L312.5,846.9 L310.5,847.5 L308.5,848.1 L306.5,848.8 L304.5,849.5 L302.5,850.3 L300.5,851.1 L298.5,851.9 L296.5,852.8 L294.5,853.7 L292.5,854.7 L290.5,855.6 L288.5,856.6 L286.5,857.6 L284.5,858.7 L282.5,859.8 L280.5,860.9 L278.5,862.0 L276.5,863.2 L274.5,864.4 L272.5,865.6 L270.5,866.8 L268.5,868.1 L266.5,869.3 L264.5,870.6 L262.5,871.9 L260.5,873.3 L258.5,874.6 L256.5,876.0 L254.5,877.4 L252.5,878.8 L250.5,880.2 L248.5,881.6 L246.5,883.0 L244.5,884.5 L242.5,885.9 L240.5,887.4 L238.5,888.8 L236.5,890.3 L234.5,891.7 L232.5,893.2 L230.5,894.6 L228.5,896.1 L226.5,897.5 L224.5,899.0 L222.5,900.4 L220.5,901.8 L218.5,903.2 L216.5,904.6 L214.5,905.9 L212.5,907.3 L210.5,908.6 L208.5,909.9 L206.5,911.2 L204.5,912.5 L202.5,913.7 L200.5,914.9 L198.5,916.1 L196.5,917.2 L194.5,918.3 L192.5,919.4 L190.5,920.4 L188.5,921.5 L186.5,922.4 L184.5,923.4 L182.5,924.3 L180.5,925.2 L178.5,926.0 L176.5,926.8 L174.5,927.6 L172.5,928.4 L170.5,929.1 L168.5,929.8 L166.5,930.4 L164.5,931.0 L162.5,931.6 L160.5,932.1 L158.5,932.6 L156.5,933.1 L154.5,933.6 L152.5,934.0 L150.5,934.3 L148.5,934.7 L146.5,935.0 L144.5,935.2 L142.5,935.5 L140.5,935.7 L138.5,935.8 L136.5,936.0 L134.5,936.1 L132.5,936.1 L130.5,936.2 L128.5,936.2 L126.5,936.1 L124.5,936.0 L122.5,935.9 L120.5,935.8 L118.5,935.6 L116.5,935.4 L114.5,935.1Z" fill="#ee9a9a" fill-opacity="0.45" stroke="none"/>
<path d="M114.5,930.0 L116.5,930.3 L118.5,930.5 L120.5,930.7 L122.5,930.9 L124.5,931.0 L126.5,931.1 L128.5,931.2 L130.5,931.2 L132.5,931.1 L134.5,931.1 L136.5,930.9 L138.5,930.8 L140.5,930.6 L142.5,930.4 L144.5,930.1 L146.5,929.8 L148.5,929.4 L150.5,929.0 L152.5,928.6 L154.5,928.2 L156.5,927.6 L158.5,927.1 L160.5,926.5 L162.5,925.9 L164.5,925.3 L166.5,924.6 L168.5,923.9 L170.5,923.1 L172.5,922.3 L174.5,921.5 L176.5,920.6 L178.5,919.7 L180.5,918.8 L182.5,917.8 L184.5,916.8 L186.5,915.8 L188.5,914.7 L190.5,913.6 L192.5,912.5 L194.5,911.3 L196.5,910.1 L198.5,908.9 L200.5,907.6 L202.5,906.3 L204.5,905.0 L206.5,903.7 L208.5,902.3 L210.5,900.9 L212.5,899.5 L214.5,898.1 L216.5,896.7 L218.5,895.2 L220.5,893.8 L222.5,892.3 L224.5,890.8 L226.5,889.3 L228.5,887.8 L230.5,886.3 L232.5,884.8 L234.5,883.2 L236.5,881.7 L238.5,880.2 L240.5,878.7 L242.5,877.2 L244.5,875.7 L246.5,874.2 L248.5,872.8 L250.5,871.3 L252.5,869.8 L254.5,868.4 L256.5,867.0 L258.5,865.6 L260.5,864.2 L262.5,862.8 L264.5,861.5 L266.5,860.2 L268.5,858.9 L270.5,857.6 L272.5,856.4 L274.5,855.1 L276.5,853.9 L278.5,852.8 L280.5,851.6 L282.5,850.5 L284.5,849.4 L286.5,848.3 L288.5,847.3 L290.5,846.3 L292.5,845.3 L294.5,844.4 L296.5,843.5 L298.5,842.6 L300.5,841.8 L302.5,841.0 L304.5,840.2 L306.5,839.5 L308.5,838.8 L310.5,838.2 L312.5,837.6 L314.5,837.0 L316.5,836.5 L318.5,836.0 L320.5,835.6 L322.5,835.2 L324.5,834.8 L326.5,834.5 L328.5,834.3 L330.5,834.1 L332.5,833.9 L334.5,833.8 L336.5,833.7 L338.5,833.7 L340.5,833.8 L342.5,833.8 L344.5,834.0 L346.5,834.2 L348.5,834.4 L350.5,834.7 L352.5,835.0 L354.5,835.4 L356.5,835.8 L358.5,836.3 L360.5,836.7 L362.5,837.3 L364.5,837.8 L366.5,838.4 L368.5,839.1 L370.5,839.7 L372.5,840.4 L374.5,841.2 L376.5,841.9 L378.5,842.7 L380.5,843.5 L382.5,844.3 L384.5,845.2 L386.5,846.0 L388.5,846.9 L390.5,847.8 L392.5,848.8 L394.5,849.7 L396.5,850.7 L398.5,851.6 L400.5,852.6 L402.5,853.6 L404.5,854.6 L406.5,855.6 L408.5,856.6 L410.5,857.6 L412.5,858.7 L414.5,859.7 L416.5,860.8 L418.5,861.8 L420.5,862.9 L422.5,863.9 L424.5,865.0 L426.5,866.1 L428.5,867.1 L430.5,868.2 L432.5,869.3 L434.5,870.4 L436.5,871.5 L438.5,872.5 L440.5,873.6 L442.5,874.7 L444.5,875.8 L446.5,876.9 L448.5,878.0 L450.5,879.1 L452.5,880.2 L454.5,881.3 L456.5,882.3 L458.5,883.4 L460.5,884.5 L462.5,885.6 L464.5,886.6 L466.5,887.7 L468.5,888.8 L470.5,889.8 L472.5,890.9 L474.5,891.9 L476.5,892.9 L478.5,894.0 L480.5,895.0 L482.5,896.0 L484.5,897.0 L486.5,898.0 L488.5,899.0 L490.5,899.9 L492.5,900.9 L494.5,901.9 L496.5,902.8 L498.5,903.7 L500.5,904.6 L502.5,905.5 L504.5,906.4 L506.5,907.3 L508.5,908.2 L510.5,909.0 L512.5,909.9 L514.5,910.7 L516.5,911.5 L518.5,912.3 L520.5,913.0 L522.5,913.8 L524.5,914.5 L526.5,915.2 L528.5,915.9 L530.5,916.6 L532.5,917.2 L534.5,917.9 L536.5,918.5 L538.5,919.1 L540.5,919.7 L542.5,920.3 L544.5,920.8 L546.5,921.4 L548.5,921.9 L550.5,922.4 L552.5,922.9 L554.5,923.4 L556.5,923.9 L558.5,924.3 L560.5,924.8 L562.5,925.2 L564.5,925.6 L566.5,926.0 L568.5,926.4 L570.5,926.8 L572.5,927.1 L574.5,927.5 L576.5,927.8 L578.5,928.2 L580.5,928.5 L582.5,928.8 L584.5,929.1 L586.5,929.3 L588.5,929.6 L590.5,929.9 L592.5,930.1 L594.5,930.4 L596.5,930.6 L598.5,930.8 L600.5,931.1 L602.5,931.3 L604.5,931.5 L606.5,931.7 L608.5,931.9 L610.5,932.0 L612.5,932.2 L614.5,932.4 L616.5,932.5 L618.5,932.7 L620.5,932.8 L622.5,933.0 L624.5,933.1 L626.5,933.2 L628.5,933.4 L630.5,933.5 L632.5,933.6 L634.5,933.7 L636.5,933.8 L638.5,933.9 L640.5,934.0 L642.5,934.1 L644.5,934.2 L646.5,934.3 L648.5,934.4 L650.5,934.5 L652.5,934.6 L654.5,934.7 L656.5,934.8 L658.5,934.8 L660.5,934.9 L662.5,935.0 L664.5,935.1 L666.5,935.2 L668.5,935.3 L670.5,935.4 L672.5,935.4 L674.5,935.5 L676.5,935.6 L678.5,935.7 L680.5,935.8 L682.5,935.9 L684.5,936.0 L686.5,936.1 L688.5,936.2 L690.5,936.3 L692.5,936.4 L694.5,936.5 L696.5,936.7 L698.5,936.8 L700.5,936.9 L702.5,937.0 L704.5,937.2 L706.5,937.3 L708.5,937.5 L710.5,937.6 L712.5,937.8 L714.5,938.0 L716.5,938.2 L718.5,938.3 L720.5,938.5 L722.3,938.7" fill="none" stroke="#c84848" stroke-width="2.2" stroke-linejoin="round"/>
<path d="M114.5,937.9 L116.5,938.3 L118.5,938.6 L120.5,938.8 L122.5,938.9 L124.5,939.0 L126.5,938.9 L128.5,938.8 L130.5,938.6 L132.5,938.3 L134.5,937.9 L136.5,937.5 L138.5,937.0 L140.5,936.4 L142.5,935.7 L144.5,935.0 L146.5,934.2 L148.5,933.3 L150.5,932.4 L152.5,931.4 L154.5,930.3 L156.5,929.2 L158.5,928.1 L160.5,926.9 L162.5,925.6 L164.5,924.3 L166.5,922.9 L168.5,921.5 L170.5,920.0 L172.5,918.5 L174.5,916.9 L176.5,915.3 L178.5,913.7 L180.5,912.0 L182.5,910.3 L184.5,908.6 L186.5,906.8 L188.5,905.0 L190.5,903.2 L192.5,901.3 L194.5,899.5 L196.5,897.6 L198.5,895.6 L200.5,893.7 L202.5,891.7 L204.5,889.8 L206.5,887.8 L208.5,885.8 L210.5,883.8 L212.5,881.8 L214.5,879.7 L216.5,877.7 L218.5,875.7 L220.5,873.7 L222.5,871.6 L224.5,869.6 L226.5,867.6 L228.5,865.6 L230.5,863.6 L232.5,861.6 L234.5,859.6 L236.5,857.7 L238.5,855.7 L240.5,853.8 L242.5,851.9 L244.5,850.0 L246.5,848.1 L248.5,846.3 L250.5,844.5 L252.5,842.7 L254.5,840.9 L256.5,839.2 L258.5,837.5 L260.5,835.8 L262.5,834.1 L264.5,832.5 L266.5,830.9 L268.5,829.4 L270.5,827.8 L272.5,826.4 L274.5,824.9 L276.5,823.5 L278.5,822.2 L280.5,820.9 L282.5,819.6 L284.5,818.4 L286.5,817.2 L288.5,816.0 L290.5,815.0 L292.5,813.9 L294.5,812.9 L296.5,812.0 L298.5,811.1 L300.5,810.3 L302.5,809.5 L304.5,808.8 L306.5,808.2 L308.5,807.6 L310.5,807.1 L312.5,806.6 L314.5,806.2 L316.5,805.8 L318.5,805.5 L320.5,805.2 L322.5,805.0 L324.5,804.9 L326.5,804.7 L328.5,804.7 L330.5,804.7 L332.5,804.7 L334.5,804.8 L336.5,805.0 L338.5,805.2 L340.5,805.4 L342.5,805.7 L344.5,806.1 L346.5,806.4 L348.5,806.9 L350.5,807.3 L352.5,807.8 L354.5,808.4 L356.5,809.0 L358.5,809.6 L360.5,810.3 L362.5,811.0 L364.5,811.8 L366.5,812.6 L368.5,813.4 L370.5,814.3 L372.5,815.2 L374.5,816.2 L376.5,817.2 L378.5,818.2 L380.5,819.2 L382.5,820.3 L384.5,821.4 L386.5,822.6 L388.5,823.8 L390.5,825.0 L392.5,826.2 L394.5,827.5 L396.5,828.8 L398.5,830.2 L400.5,831.5 L402.5,832.9 L404.5,834.3 L406.5,835.8 L408.5,837.2 L410.5,838.7 L412.5,840.2 L414.5,841.8 L416.5,843.3 L418.5,844.9 L420.5,846.5 L422.5,848.1 L424.5,849.7 L426.5,851.3 L428.5,853.0 L430.5,854.7 L432.5,856.3 L434.5,858.0 L436.5,859.7 L438.5,861.4 L440.5,863.2 L442.5,864.9 L444.5,866.6 L446.5,868.4 L448.5,870.1 L450.5,871.8 L452.5,873.6 L454.5,875.3 L456.5,877.1 L458.5,878.8 L460.5,880.6 L462.5,882.3 L464.5,884.0 L466.5,885.8 L468.5,887.5 L470.5,889.2 L472.5,890.9 L474.5,892.6 L476.5,894.3 L478.5,896.0 L480.5,897.7 L482.5,899.3 L484.5,901.0 L486.5,902.6 L488.5,904.2 L490.5,905.8 L492.5,907.4 L494.5,909.0 L496.5,910.5 L498.5,912.0 L500.5,913.5 L502.5,915.0 L504.5,916.5 L506.5,917.9 L508.5,919.3 L510.5,920.7 L512.5,922.0 L514.5,923.3 L516.5,924.6 L518.5,925.9 L520.5,927.1 L522.5,928.3 L524.5,929.5 L526.5,930.7 L528.5,931.8 L530.5,932.9 L532.5,934.0 L534.5,935.1 L536.5,936.1 L538.5,937.1 L540.5,938.1 L542.5,939.0 L544.5,940.0 L546.5,940.9 L548.5,941.8 L550.5,942.7 L552.5,943.5 L554.5,944.3 L556.5,945.1 L558.5,945.9 L560.5,946.7 L562.5,947.4 L564.5,948.2 L566.5,948.9 L568.5,949.5 L570.5,950.2 L572.5,950.9 L574.5,951.5 L576.5,952.1 L578.5,952.7 L580.5,953.3 L582.5,953.8 L584.5,954.4 L586.5,954.9 L588.5,955.4 L590.5,955.9 L592.5,956.3 L594.5,956.8 L596.5,957.2 L598.5,957.7 L600.5,958.1 L602.5,958.5 L604.5,958.9 L606.5,959.3 L608.5,959.6 L610.5,960.0 L612.5,960.3 L614.5,960.6 L616.5,960.9 L618.5,961.2 L620.5,961.5 L622.5,961.8 L624.5,962.0 L626.5,962.3 L628.5,962.5 L630.5,962.8 L632.5,963.0 L634.5,963.2 L636.5,963.4 L638.5,963.6 L640.5,963.8 L642.5,964.0 L644.5,964.2 L646.5,964.3 L648.5,964.5 L650.5,964.6 L652.5,964.8 L654.5,964.9 L656.5,965.1 L658.5,965.2 L660.5,965.3 L662.5,965.4 L664.5,965.5 L666.5,965.6 L668.5,965.7 L670.5,965.8 L672.5,965.9 L674.5,966.0 L676.5,966.1 L678.5,966.2 L680.5,966.3 L682.5,966.4 L684.5,966.5 L686.5,966.6 L688.5,966.6 L690.5,966.7 L692.5,966.8 L694.5,966.9 L696.5,967.0 L698.5,967.0 L700.5,967.1 L702.5,967.2 L704.5,967.3 L706.5,967.4 L708.5,967.5 L710.5,967.6 L712.5,967.7 L714.5,967.8 L716.5,967.9 L718.5,968.0 L720.5,968.1 L722.3,968.2 L722.3,1000.9 L720.5,1000.8 L718.5,1000.8 L716.5,1000.7 L714.5,1000.6 L712.5,1000.5 L710.5,1000.5 L708.5,1000.4 L706.5,1000.3 L704.5,1000.3 L702.5,1000.2 L700.5,1000.1 L698.5,1000.1 L696.5,1000.0 L694.5,1000.0 L692.5,999.9 L690.5,999.8 L688.5,999.8 L686.5,999.7 L684.5,999.7 L682.5,999.6 L680.5,999.5 L678.5,999.5 L676.5,999.4 L674.5,999.3 L672.5,999.2 L670.5,999.1 L668.5,999.1 L666.5,999.0 L664.5,998.9 L662.5,998.8 L660.5,998.6 L658.5,998.5 L656.5,998.4 L654.5,998.3 L652.5,998.1 L650.5,998.0 L648.5,997.9 L646.5,997.7 L644.5,997.5 L642.5,997.4 L640.5,997.2 L638.5,997.0 L636.5,996.8 L634.5,996.6 L632.5,996.3 L630.5,996.1 L628.5,995.9 L626.5,995.6 L624.5,995.3 L622.5,995.1 L620.5,994.8 L618.5,994.5 L616.5,994.1 L614.5,993.8 L612.5,993.5 L610.5,993.1 L608.5,992.7 L606.5,992.4 L604.5,992.0 L602.5,991.5 L600.5,991.1 L598.5,990.7 L596.5,990.2 L594.5,989.7 L592.5,989.2 L590.5,988.7 L588.5,988.1 L586.5,987.6 L584.5,987.0 L582.5,986.4 L580.5,985.8 L578.5,985.2 L576.5,984.5 L574.5,983.9 L572.5,983.2 L570.5,982.5 L568.5,981.8 L566.5,981.0 L564.5,980.2 L562.5,979.4 L560.5,978.6 L558.5,977.8 L556.5,976.9 L554.5,976.0 L552.5,975.1 L550.5,974.2 L548.5,973.2 L546.5,972.2 L544.5,971.2 L542.5,970.2 L540.5,969.1 L538.5,968.0 L536.5,966.9 L534.5,965.8 L532.5,964.6 L530.5,963.4 L528.5,962.2 L526.5,960.9 L524.5,959.7 L522.5,958.4 L520.5,957.0 L518.5,955.7 L516.5,954.3 L514.5,952.8 L512.5,951.4 L510.5,949.9 L508.5,948.4 L506.5,946.8 L504.5,945.2 L502.5,943.6 L500.5,942.0 L498.5,940.3 L496.5,938.7 L494.5,937.0 L492.5,935.2 L490.5,933.5 L488.5,931.7 L486.5,930.0 L484.5,928.2 L482.5,926.3 L480.5,924.5 L478.5,922.7 L476.5,920.8 L474.5,919.0 L472.5,917.1 L470.5,915.2 L468.5,913.3 L466.5,911.4 L464.5,909.5 L462.5,907.6 L460.5,905.7 L458.5,903.8 L456.5,901.9 L454.5,899.9 L452.5,898.0 L450.5,896.1 L448.5,894.2 L446.5,892.3 L444.5,890.4 L442.5,888.5 L440.5,886.7 L438.5,884.8 L436.5,882.9 L434.5,881.1 L432.5,879.3 L430.5,877.5 L428.5,875.7 L426.5,873.9 L424.5,872.1 L422.5,870.4 L420.5,868.6 L418.5,866.9 L416.5,865.2 L414.5,863.6 L412.5,862.0 L410.5,860.3 L408.5,858.8 L406.5,857.2 L404.5,855.7 L402.5,854.2 L400.5,852.7 L398.5,851.3 L396.5,849.9 L394.5,848.6 L392.5,847.2 L390.5,845.9 L388.5,844.7 L386.5,843.5 L384.5,842.3 L382.5,841.1 L380.5,840.0 L378.5,839.0 L376.5,837.9 L374.5,836.9 L372.5,836.0 L370.5,835.1 L368.5,834.2 L366.5,833.4 L364.5,832.6 L362.5,831.8 L360.5,831.1 L358.5,830.5 L356.5,829.8 L354.5,829.3 L352.5,828.7 L350.5,828.3 L348.5,827.8 L346.5,827.4 L344.5,827.1 L342.5,826.8 L340.5,826.5 L338.5,826.3 L336.5,826.2 L334.5,826.0 L332.5,826.0 L330.5,826.0 L328.5,826.0 L326.5,826.1 L324.5,826.3 L322.5,826.4 L320.5,826.7 L318.5,827.0 L316.5,827.4 L314.5,827.8 L312.5,828.2 L310.5,828.7 L308.5,829.3 L306.5,829.9 L304.5,830.6 L302.5,831.4 L300.5,832.2 L298.5,833.0 L296.5,833.9 L294.5,834.9 L292.5,835.9 L290.5,836.9 L288.5,838.0 L286.5,839.2 L284.5,840.4 L282.5,841.6 L280.5,842.9 L278.5,844.2 L276.5,845.6 L274.5,847.0 L272.5,848.4 L270.5,849.9 L268.5,851.4 L266.5,853.0 L264.5,854.6 L262.5,856.2 L260.5,857.8 L258.5,859.5 L256.5,861.2 L254.5,862.9 L252.5,864.7 L250.5,866.4 L248.5,868.2 L246.5,870.0 L244.5,871.9 L242.5,873.7 L240.5,875.6 L238.5,877.5 L236.5,879.4 L234.5,881.3 L232.5,883.2 L230.5,885.1 L228.5,887.1 L226.5,889.0 L224.5,891.0 L222.5,892.9 L220.5,894.9 L218.5,896.9 L216.5,898.8 L214.5,900.8 L212.5,902.7 L210.5,904.6 L208.5,906.6 L206.5,908.5 L204.5,910.4 L202.5,912.3 L200.5,914.1 L198.5,916.0 L196.5,917.8 L194.5,919.6 L192.5,921.4 L190.5,923.2 L188.5,924.9 L186.5,926.6 L184.5,928.3 L182.5,929.9 L180.5,931.6 L178.5,933.1 L176.5,934.7 L174.5,936.2 L172.5,937.6 L170.5,939.0 L168.5,940.4 L166.5,941.8 L164.5,943.0 L162.5,944.3 L160.5,945.5 L158.5,946.6 L156.5,947.7 L154.5,948.8 L152.5,949.7 L150.5,950.7 L148.5,951.5 L146.5,952.4 L144.5,953.1 L142.5,953.8 L140.5,954.4 L138.5,955.0 L136.5,955.5 L134.5,955.9 L132.5,956.3 L130.5,956.6 L128.5,956.8 L126.5,956.9 L124.5,957.0 L122.5,957.0 L120.5,956.9 L118.5,956.7 L116.5,956.5 L114.5,956.2Z" fill="#9cc4f4" fill-opacity="0.55" stroke="none"/>
<path d="M114.5,947.0 L116.5,947.4 L118.5,947.7 L120.5,947.9 L122.5,948.0 L124.5,948.1 L126.5,948.0 L128.5,947.9 L130.5,947.7 L132.5,947.4 L134.5,947.0 L136.5,946.6 L138.5,946.1 L140.5,945.5 L142.5,944.9 L144.5,944.1 L146.5,943.4 L148.5,942.5 L150.5,941.6 L152.5,940.6 L154.5,939.6 L156.5,938.5 L158.5,937.4 L160.5,936.2 L162.5,935.0 L164.5,933.7 L166.5,932.3 L168.5,931.0 L170.5,929.5 L172.5,928.0 L174.5,926.5 L176.5,925.0 L178.5,923.4 L180.5,921.8 L182.5,920.1 L184.5,918.4 L186.5,916.7 L188.5,914.9 L190.5,913.1 L192.5,911.3 L194.5,909.5 L196.5,907.6 L198.5,905.7 L200.5,903.8 L202.5,901.9 L204.5,900.0 L206.5,898.0 L208.5,896.1 L210.5,894.1 L212.5,892.1 L214.5,890.1 L216.5,888.1 L218.5,886.2 L220.5,884.2 L222.5,882.2 L224.5,880.2 L226.5,878.2 L228.5,876.2 L230.5,874.3 L232.5,872.3 L234.5,870.4 L236.5,868.4 L238.5,866.5 L240.5,864.6 L242.5,862.7 L244.5,860.9 L246.5,859.0 L248.5,857.2 L250.5,855.4 L252.5,853.6 L254.5,851.9 L256.5,850.1 L258.5,848.4 L260.5,846.8 L262.5,845.1 L264.5,843.5 L266.5,842.0 L268.5,840.4 L270.5,838.9 L272.5,837.4 L274.5,836.0 L276.5,834.6 L278.5,833.3 L280.5,831.9 L282.5,830.7 L284.5,829.5 L286.5,828.3 L288.5,827.1 L290.5,826.0 L292.5,825.0 L294.5,824.0 L296.5,823.1 L298.5,822.2 L300.5,821.4 L302.5,820.6 L304.5,819.9 L306.5,819.2 L308.5,818.6 L310.5,818.1 L312.5,817.6 L314.5,817.1 L316.5,816.7 L318.5,816.4 L320.5,816.1 L322.5,815.9 L324.5,815.7 L326.5,815.6 L328.5,815.5 L330.5,815.5 L332.5,815.5 L334.5,815.6 L336.5,815.7 L338.5,815.9 L340.5,816.1 L342.5,816.4 L344.5,816.7 L346.5,817.1 L348.5,817.5 L350.5,818.0 L352.5,818.5 L354.5,819.0 L356.5,819.6 L358.5,820.2 L360.5,820.9 L362.5,821.6 L364.5,822.3 L366.5,823.1 L368.5,824.0 L370.5,824.8 L372.5,825.7 L374.5,826.7 L376.5,827.7 L378.5,828.7 L380.5,829.7 L382.5,830.8 L384.5,832.0 L386.5,833.1 L388.5,834.3 L390.5,835.5 L392.5,836.8 L394.5,838.1 L396.5,839.4 L398.5,840.8 L400.5,842.2 L402.5,843.6 L404.5,845.1 L406.5,846.5 L408.5,848.0 L410.5,849.6 L412.5,851.1 L414.5,852.7 L416.5,854.3 L418.5,855.9 L420.5,857.6 L422.5,859.2 L424.5,860.9 L426.5,862.6 L428.5,864.3 L430.5,866.0 L432.5,867.8 L434.5,869.5 L436.5,871.3 L438.5,873.1 L440.5,874.9 L442.5,876.7 L444.5,878.5 L446.5,880.3 L448.5,882.1 L450.5,883.9 L452.5,885.8 L454.5,887.6 L456.5,889.4 L458.5,891.2 L460.5,893.1 L462.5,894.9 L464.5,896.7 L466.5,898.5 L468.5,900.3 L470.5,902.1 L472.5,903.9 L474.5,905.7 L476.5,907.5 L478.5,909.3 L480.5,911.0 L482.5,912.8 L484.5,914.5 L486.5,916.2 L488.5,917.9 L490.5,919.6 L492.5,921.2 L494.5,922.9 L496.5,924.5 L498.5,926.1 L500.5,927.7 L502.5,929.2 L504.5,930.8 L506.5,932.3 L508.5,933.7 L510.5,935.2 L512.5,936.6 L514.5,938.0 L516.5,939.3 L518.5,940.7 L520.5,942.0 L522.5,943.3 L524.5,944.5 L526.5,945.7 L528.5,946.9 L530.5,948.1 L532.5,949.2 L534.5,950.3 L536.5,951.4 L538.5,952.5 L540.5,953.5 L542.5,954.6 L544.5,955.5 L546.5,956.5 L548.5,957.5 L550.5,958.4 L552.5,959.3 L554.5,960.1 L556.5,961.0 L558.5,961.8 L560.5,962.6 L562.5,963.4 L564.5,964.2 L566.5,964.9 L568.5,965.6 L570.5,966.3 L572.5,967.0 L574.5,967.7 L576.5,968.3 L578.5,969.0 L580.5,969.6 L582.5,970.2 L584.5,970.7 L586.5,971.3 L588.5,971.8 L590.5,972.3 L592.5,972.8 L594.5,973.3 L596.5,973.8 L598.5,974.2 L600.5,974.7 L602.5,975.1 L604.5,975.5 L606.5,975.9 L608.5,976.3 L610.5,976.6 L612.5,977.0 L614.5,977.3 L616.5,977.6 L618.5,977.9 L620.5,978.2 L622.5,978.5 L624.5,978.8 L626.5,979.1 L628.5,979.3 L630.5,979.6 L632.5,979.8 L634.5,980.0 L636.5,980.2 L638.5,980.4 L640.5,980.6 L642.5,980.8 L644.5,981.0 L646.5,981.1 L648.5,981.3 L650.5,981.4 L652.5,981.6 L654.5,981.7 L656.5,981.8 L658.5,982.0 L660.5,982.1 L662.5,982.2 L664.5,982.3 L666.5,982.4 L668.5,982.5 L670.5,982.6 L672.5,982.7 L674.5,982.8 L676.5,982.8 L678.5,982.9 L680.5,983.0 L682.5,983.1 L684.5,983.1 L686.5,983.2 L688.5,983.3 L690.5,983.3 L692.5,983.4 L694.5,983.5 L696.5,983.5 L698.5,983.6 L700.5,983.7 L702.5,983.7 L704.5,983.8 L706.5,983.8 L708.5,983.9 L710.5,984.0 L712.5,984.1 L714.5,984.1 L716.5,984.2 L718.5,984.3 L720.5,984.4 L722.3,984.4" fill="none" stroke="#4a78b8" stroke-width="2.2" stroke-linejoin="round"/>
<line x1="114.5" y1="936.6" x2="722.3" y2="936.6" stroke="#222" stroke-width="2.4"/>
<line x1="155.2" y1="631.5" x2="155.2" y2="1241" stroke="#111" stroke-width="3.4" stroke-dasharray="8.3 16.8" stroke-dashoffset="3.4" stroke-linecap="round"/>
<rect x="114.5" y="631.5" width="607.8" height="609.5" fill="none" stroke="#a8a8a8" stroke-width="2"/>
<line x1="114.5" y1="662.1" x2="121.5" y2="662.1" stroke="#a8a8a8" stroke-width="1.5"/>
<line x1="722.3" y1="662.1" x2="715.3" y2="662.1" stroke="#a8a8a8" stroke-width="1.5"/>
<text x="103.5" y="674.9" font-family='"Liberation Serif", serif' font-size="38.5" font-weight="normal" text-anchor="end" fill="#000" >4.5</text>
<line x1="114.5" y1="723.1" x2="121.5" y2="723.1" stroke="#a8a8a8" stroke-width="1.5"/>
<line x1="722.3" y1="723.1" x2="715.3" y2="723.1" stroke="#a8a8a8" stroke-width="1.5"/>
<text x="103.5" y="735.9" font-family='"Liberation Serif", serif' font-size="38.5" font-weight="normal" text-anchor="end" fill="#000" >3.5</text>
<line x1="114.5" y1="784.1" x2="121.5" y2="784.1" stroke="#a8a8a8" stroke-width="1.5"/>
<line x1="722.3" y1="784.1" x2="715.3" y2="784.1" stroke="#a8a8a8" stroke-width="1.5"/>
<text x="103.5" y="796.9" font-family='"Liberation Serif", serif' font-size="38.5" font-weight="normal" text-anchor="end" fill="#000" >2.5</text>
<line x1="114.5" y1="845.1" x2="121.5" y2="845.1" stroke="#a8a8a8" stroke-width="1.5"/>
<line x1="722.3" y1="845.1" x2="715.3" y2="845.1" stroke="#a8a8a8" stroke-width="1.5"/>
<text x="103.5" y="857.9" font-family='"Liberation Serif", serif' font-size="38.5" font-weight="normal" text-anchor="end" fill="#000" >1.5</text>
<line x1="114.5" y1="906.1" x2="121.5" y2="906.1" stroke="#a8a8a8" stroke-width="1.5"/>
<line x1="722.3" y1="906.1" x2="715.3" y2="906.1" stroke="#a8a8a8" stroke-width="1.5"/>
<text x="103.5" y="918.9" font-family='"Liberation Serif", serif' font-size="38.5" font-weight="normal" text-anchor="end" fill="#000" >0.5</text>
<line x1="114.5" y1="967.1" x2="121.5" y2="967.1" stroke="#a8a8a8" stroke-width="1.5"/>
<line x1="722.3" y1="967.1" x2="715.3" y2="967.1" stroke="#a8a8a8" stroke-width="1.5"/>
<text x="103.5" y="979.9" font-family='"Liberation Serif", serif' font-size="38.5" font-weight="normal" text-anchor="end" fill="#000" >-0.5</text>
<line x1="114.5" y1="1028.1" x2="121.5" y2="1028.1" stroke="#a8a8a8" stroke-width="1.5"/>
<line x1="722.3" y1="1028.1" x2="715.3" y2="1028.1" stroke="#a8a8a8" stroke-width="1.5"/>
<text x="103.5" y="1040.9" font-family='"Liberation Serif", serif' font-size="38.5" font-weight="normal" text-anchor="end" fill="#000" >-1.5</text>
<line x1="114.5" y1="1089.1" x2="121.5" y2="1089.1" stroke="#a8a8a8" stroke-width="1.5"/>
<line x1="722.3" y1="1089.1" x2="715.3" y2="1089.1" stroke="#a8a8a8" stroke-width="1.5"/>
<text x="103.5" y="1101.9" font-family='"Liberation Serif", serif' font-size="38.5" font-weight="normal" text-anchor="end" fill="#000" >-2.5</text>
<line x1="114.5" y1="1150.1" x2="121.5" y2="1150.1" stroke="#a8a8a8" stroke-width="1.5"/>
<line x1="722.3" y1="1150.1" x2="715.3" y2="1150.1" stroke="#a8a8a8" stroke-width="1.5"/>
<text x="103.5" y="1162.9" font-family='"Liberation Serif", serif' font-size="38.5" font-weight="normal" text-anchor="end" fill="#000" >-3.5</text>
<line x1="114.5" y1="1211.1" x2="121.5" y2="1211.1" stroke="#a8a8a8" stroke-width="1.5"/>
<line x1="722.3" y1="1211.1" x2="715.3" y2="1211.1" stroke="#a8a8a8" stroke-width="1.5"/>
<text x="103.5" y="1223.9" font-family='"Liberation Serif", serif' font-size="38.5" font-weight="normal" text-anchor="end" fill="#000" >-4.5</text>
<text x="113.5" y="1284.5" font-family='"Liberation Serif", serif' font-size="38.5" font-weight="normal" text-anchor="middle" fill="#000" >-0.1</text>
<line x1="195.5" y1="631.5" x2="195.5" y2="638.5" stroke="#a8a8a8" stroke-width="1.5"/>
<line x1="195.5" y1="1241" x2="195.5" y2="1234" stroke="#a8a8a8" stroke-width="1.5"/>
<text x="194.5" y="1284.5" font-family='"Liberation Serif", serif' font-size="38.5" font-weight="normal" text-anchor="middle" fill="#000" >0.1</text>
<line x1="276.6" y1="631.5" x2="276.6" y2="638.5" stroke="#a8a8a8" stroke-width="1.5"/>
<line x1="276.6" y1="1241" x2="276.6" y2="1234" stroke="#a8a8a8" stroke-width="1.5"/>
<text x="275.6" y="1284.5" font-family='"Liberation Serif", serif' font-size="38.5" font-weight="normal" text-anchor="middle" fill="#000" >0.3</text>
<line x1="357.6" y1="631.5" x2="357.6" y2="638.5" stroke="#a8a8a8" stroke-width="1.5"/>
<line x1="357.6" y1="1241" x2="357.6" y2="1234" stroke="#a8a8a8" stroke-width="1.5"/>
<text x="356.6" y="1284.5" font-family='"Liberation Serif", serif' font-size="38.5" font-weight="normal" text-anchor="middle" fill="#000" >0.5</text>
<line x1="438.7" y1="631.5" x2="438.7" y2="638.5" stroke="#a8a8a8" stroke-width="1.5"/>
<line x1="438.7" y1="1241" x2="438.7" y2="1234" stroke="#a8a8a8" stroke-width="1.5"/>
<text x="437.7" y="1284.5" font-family='"Liberation Serif", serif' font-size="38.5" font-weight="normal" text-anchor="middle" fill="#000" >0.7</text>
<line x1="519.7" y1="631.5" x2="519.7" y2="638.5" stroke="#a8a8a8" stroke-width="1.5"/>
<line x1="519.7" y1="1241" x2="519.7" y2="1234" stroke="#a8a8a8" stroke-width="1.5"/>
<text x="518.7" y="1284.5" font-family='"Liberation Serif", serif' font-size="38.5" font-weight="normal" text-anchor="middle" fill="#000" >0.9</text>
<line x1="600.7" y1="631.5" x2="600.7" y2="638.5" stroke="#a8a8a8" stroke-width="1.5"/>
<line x1="600.7" y1="1241" x2="600.7" y2="1234" stroke="#a8a8a8" stroke-width="1.5"/>
<text x="599.7" y="1284.5" font-family='"Liberation Serif", serif' font-size="38.5" font-weight="normal" text-anchor="middle" fill="#000" >1.1</text>
<line x1="681.8" y1="631.5" x2="681.8" y2="638.5" stroke="#a8a8a8" stroke-width="1.5"/>
<line x1="681.8" y1="1241" x2="681.8" y2="1234" stroke="#a8a8a8" stroke-width="1.5"/>
<text x="680.8" y="1284.5" font-family='"Liberation Serif", serif' font-size="38.5" font-weight="normal" text-anchor="middle" fill="#000" >1.3</text>
<text x="418.3" y="1331.0" font-family='"Liberation Serif", serif' font-size="41" font-weight="normal" text-anchor="middle" fill="#000" >time (s)</text>
<text x="0" y="0" font-family='"Liberation Serif", serif' font-size="43.5" text-anchor="middle" transform="translate(32.5,933) rotate(-90)">dB</text>
<text x="779.9" y="342.8" font-family='"Liberation Serif", serif' font-size="64" font-weight="bold" text-anchor="start" fill="#000" >c</text>
<text transform="translate(807,342.3) scale(1.3,1)" font-family='"Liberation Serif", serif' font-size="64" font-weight="bold">)</text>
<line x1="856" y1="679.5" x2="1452.7" y2="679.5" stroke="#b0b0b0" stroke-width="1.8"/>
<polyline points="956,577.8 1155,576.6 1354,634.3" fill="none" stroke="#4a4a4a" stroke-width="1.25" stroke-opacity="0.85"/>
<polyline points="956,588.5 1155,583.1 1354,655.7" fill="none" stroke="#4a4a4a" stroke-width="1.25" stroke-opacity="0.85"/>
<polyline points="956,618.2 1155,581.3 1354,693.8" fill="none" stroke="#4a4a4a" stroke-width="1.25" stroke-opacity="0.85"/>
<polyline points="956,621.2 1155,584.3 1354,767.6" fill="none" stroke="#4a4a4a" stroke-width="1.25" stroke-opacity="0.85"/>
<polyline points="956,801.5 1155,608.7 1354,774.1" fill="none" stroke="#4a4a4a" stroke-width="1.25" stroke-opacity="0.85"/>
<polyline points="956,878.8 1155,689.0 1354,881.8" fill="none" stroke="#4a4a4a" stroke-width="1.25" stroke-opacity="0.85"/>
<polyline points="956,640.2 1155,640.8 1354,637.9" fill="none" stroke="#4a4a4a" stroke-width="1.25" stroke-opacity="0.85"/>
<polyline points="956,682.5 1155,661.1 1354,542.6" fill="none" stroke="#4a4a4a" stroke-width="1.25" stroke-opacity="0.85"/>
<polyline points="956,608.7 1155,714.6 1354,743.2" fill="none" stroke="#4a4a4a" stroke-width="1.25" stroke-opacity="0.85"/>
<polyline points="956,614.6 1155,676.5 1354,754.5" fill="none" stroke="#4a4a4a" stroke-width="1.25" stroke-opacity="0.85"/>
<polyline points="956,630.1 1155,716.4 1354,749.1" fill="none" stroke="#4a4a4a" stroke-width="1.25" stroke-opacity="0.85"/>
<polyline points="956,648.0 1155,664.6 1354,736.0" fill="none" stroke="#4a4a4a" stroke-width="1.25" stroke-opacity="0.85"/>
<polyline points="956,658.7 1155,654.5 1354,641.4" fill="none" stroke="#4a4a4a" stroke-width="1.25" stroke-opacity="0.85"/>
<polyline points="956,664.6 1155,673.5 1354,667.0" fill="none" stroke="#4a4a4a" stroke-width="1.25" stroke-opacity="0.85"/>
<polyline points="956,670.6 1155,679.5 1354,752.1" fill="none" stroke="#4a4a4a" stroke-width="1.25" stroke-opacity="0.85"/>
<polyline points="956,676.5 1155,667.6 1354,659.9" fill="none" stroke="#4a4a4a" stroke-width="1.25" stroke-opacity="0.85"/>
<polyline points="956,693.2 1155,724.1 1354,790.2" fill="none" stroke="#4a4a4a" stroke-width="1.25" stroke-opacity="0.85"/>
<polyline points="956,701.5 1155,738.4 1354,803.9" fill="none" stroke="#4a4a4a" stroke-width="1.25" stroke-opacity="0.85"/>
<polyline points="956,711.0 1155,670.6 1354,662.8" fill="none" stroke="#4a4a4a" stroke-width="1.25" stroke-opacity="0.85"/>
<polyline points="956,715.2 1155,682.5 1354,746.1" fill="none" stroke="#4a4a4a" stroke-width="1.25" stroke-opacity="0.85"/>
<polyline points="956,720.6 1155,691.4 1354,739.0" fill="none" stroke="#4a4a4a" stroke-width="1.25" stroke-opacity="0.85"/>
<circle cx="956" cy="577.8" r="3.0" fill="#d8c0c0" stroke="#4a2828" stroke-width="1.6"/>
<circle cx="1155" cy="576.6" r="3.0" fill="#3a3a3a" stroke="#1a1a1a" stroke-width="1.6"/>
<circle cx="1354" cy="634.3" r="3.0" fill="#ccd4dc" stroke="#27323c" stroke-width="1.6"/>
<circle cx="956" cy="588.5" r="3.0" fill="#d8c0c0" stroke="#4a2828" stroke-width="1.6"/>
<circle cx="1155" cy="583.1" r="3.0" fill="#3a3a3a" stroke="#1a1a1a" stroke-width="1.6"/>
<circle cx="1354" cy="655.7" r="3.0" fill="#ccd4dc" stroke="#27323c" stroke-width="1.6"/>
<circle cx="956" cy="618.2" r="3.0" fill="#d8c0c0" stroke="#4a2828" stroke-width="1.6"/>
<circle cx="1155" cy="581.3" r="3.0" fill="#3a3a3a" stroke="#1a1a1a" stroke-width="1.6"/>
<circle cx="1354" cy="693.8" r="3.0" fill="#ccd4dc" stroke="#27323c" stroke-width="1.6"/>
<circle cx="956" cy="621.2" r="3.0" fill="#d8c0c0" stroke="#4a2828" stroke-width="1.6"/>
<circle cx="1155" cy="584.3" r="3.0" fill="#3a3a3a" stroke="#1a1a1a" stroke-width="1.6"/>
<circle cx="1354" cy="767.6" r="3.0" fill="#ccd4dc" stroke="#27323c" stroke-width="1.6"/>
<circle cx="956" cy="801.5" r="3.0" fill="#d8c0c0" stroke="#4a2828" stroke-width="1.6"/>
<circle cx="1155" cy="608.7" r="3.0" fill="#3a3a3a" stroke="#1a1a1a" stroke-width="1.6"/>
<circle cx="1354" cy="774.1" r="3.0" fill="#ccd4dc" stroke="#27323c" stroke-width="1.6"/>
<circle cx="956" cy="878.8" r="3.0" fill="#d8c0c0" stroke="#4a2828" stroke-width="1.6"/>
<circle cx="1155" cy="689.0" r="3.0" fill="#3a3a3a" stroke="#1a1a1a" stroke-width="1.6"/>
<circle cx="1354" cy="881.8" r="3.0" fill="#ccd4dc" stroke="#27323c" stroke-width="1.6"/>
<circle cx="956" cy="640.2" r="3.0" fill="#d8c0c0" stroke="#4a2828" stroke-width="1.6"/>
<circle cx="1155" cy="640.8" r="3.0" fill="#3a3a3a" stroke="#1a1a1a" stroke-width="1.6"/>
<circle cx="1354" cy="637.9" r="3.0" fill="#ccd4dc" stroke="#27323c" stroke-width="1.6"/>
<circle cx="956" cy="682.5" r="3.0" fill="#d8c0c0" stroke="#4a2828" stroke-width="1.6"/>
<circle cx="1155" cy="661.1" r="3.0" fill="#3a3a3a" stroke="#1a1a1a" stroke-width="1.6"/>
<circle cx="1354" cy="542.6" r="3.0" fill="#ccd4dc" stroke="#27323c" stroke-width="1.6"/>
<circle cx="956" cy="608.7" r="3.0" fill="#d8c0c0" stroke="#4a2828" stroke-width="1.6"/>
<circle cx="1155" cy="714.6" r="3.0" fill="#3a3a3a" stroke="#1a1a1a" stroke-width="1.6"/>
<circle cx="1354" cy="743.2" r="3.0" fill="#ccd4dc" stroke="#27323c" stroke-width="1.6"/>
<circle cx="956" cy="614.6" r="3.0" fill="#d8c0c0" stroke="#4a2828" stroke-width="1.6"/>
<circle cx="1155" cy="676.5" r="3.0" fill="#3a3a3a" stroke="#1a1a1a" stroke-width="1.6"/>
<circle cx="1354" cy="754.5" r="3.0" fill="#ccd4dc" stroke="#27323c" stroke-width="1.6"/>
<circle cx="956" cy="630.1" r="3.0" fill="#d8c0c0" stroke="#4a2828" stroke-width="1.6"/>
<circle cx="1155" cy="716.4" r="3.0" fill="#3a3a3a" stroke="#1a1a1a" stroke-width="1.6"/>
<circle cx="1354" cy="749.1" r="3.0" fill="#ccd4dc" stroke="#27323c" stroke-width="1.6"/>
<circle cx="956" cy="648.0" r="3.0" fill="#d8c0c0" stroke="#4a2828" stroke-width="1.6"/>
<circle cx="1155" cy="664.6" r="3.0" fill="#3a3a3a" stroke="#1a1a1a" stroke-width="1.6"/>
<circle cx="1354" cy="736.0" r="3.0" fill="#ccd4dc" stroke="#27323c" stroke-width="1.6"/>
<circle cx="956" cy="658.7" r="3.0" fill="#d8c0c0" stroke="#4a2828" stroke-width="1.6"/>
<circle cx="1155" cy="654.5" r="3.0" fill="#3a3a3a" stroke="#1a1a1a" stroke-width="1.6"/>
<circle cx="1354" cy="641.4" r="3.0" fill="#ccd4dc" stroke="#27323c" stroke-width="1.6"/>
<circle cx="956" cy="664.6" r="3.0" fill="#d8c0c0" stroke="#4a2828" stroke-width="1.6"/>
<circle cx="1155" cy="673.5" r="3.0" fill="#3a3a3a" stroke="#1a1a1a" stroke-width="1.6"/>
<circle cx="1354" cy="667.0" r="3.0" fill="#ccd4dc" stroke="#27323c" stroke-width="1.6"/>
<circle cx="956" cy="670.6" r="3.0" fill="#d8c0c0" stroke="#4a2828" stroke-width="1.6"/>
<circle cx="1155" cy="679.5" r="3.0" fill="#3a3a3a" stroke="#1a1a1a" stroke-width="1.6"/>
<circle cx="1354" cy="752.1" r="3.0" fill="#ccd4dc" stroke="#27323c" stroke-width="1.6"/>
<circle cx="956" cy="676.5" r="3.0" fill="#d8c0c0" stroke="#4a2828" stroke-width="1.6"/>
<circle cx="1155" cy="667.6" r="3.0" fill="#3a3a3a" stroke="#1a1a1a" stroke-width="1.6"/>
<circle cx="1354" cy="659.9" r="3.0" fill="#ccd4dc" stroke="#27323c" stroke-width="1.6"/>
<circle cx="956" cy="693.2" r="3.0" fill="#d8c0c0" stroke="#4a2828" stroke-width="1.6"/>
<circle cx="1155" cy="724.1" r="3.0" fill="#3a3a3a" stroke="#1a1a1a" stroke-width="1.6"/>
<circle cx="1354" cy="790.2" r="3.0" fill="#ccd4dc" stroke="#27323c" stroke-width="1.6"/>
<circle cx="956" cy="701.5" r="3.0" fill="#d8c0c0" stroke="#4a2828" stroke-width="1.6"/>
<circle cx="1155" cy="738.4" r="3.0" fill="#3a3a3a" stroke="#1a1a1a" stroke-width="1.6"/>
<circle cx="1354" cy="803.9" r="3.0" fill="#ccd4dc" stroke="#27323c" stroke-width="1.6"/>
<circle cx="956" cy="711.0" r="3.0" fill="#d8c0c0" stroke="#4a2828" stroke-width="1.6"/>
<circle cx="1155" cy="670.6" r="3.0" fill="#3a3a3a" stroke="#1a1a1a" stroke-width="1.6"/>
<circle cx="1354" cy="662.8" r="3.0" fill="#ccd4dc" stroke="#27323c" stroke-width="1.6"/>
<circle cx="956" cy="715.2" r="3.0" fill="#d8c0c0" stroke="#4a2828" stroke-width="1.6"/>
<circle cx="1155" cy="682.5" r="3.0" fill="#3a3a3a" stroke="#1a1a1a" stroke-width="1.6"/>
<circle cx="1354" cy="746.1" r="3.0" fill="#ccd4dc" stroke="#27323c" stroke-width="1.6"/>
<circle cx="956" cy="720.6" r="3.0" fill="#d8c0c0" stroke="#4a2828" stroke-width="1.6"/>
<circle cx="1155" cy="691.4" r="3.0" fill="#3a3a3a" stroke="#1a1a1a" stroke-width="1.6"/>
<circle cx="1354" cy="739.0" r="3.0" fill="#ccd4dc" stroke="#27323c" stroke-width="1.6"/>
<rect x="926.5" y="671.5" width="59" height="8.0" fill="none" stroke="#000" stroke-width="2.6"/>
<path d="M956,659.9 L956,685.5" fill="none" stroke="#000" stroke-width="5.5"/>
<path d="M943.5,659.9 L968.5,659.9 M943.5,685.5 L968.5,685.5" fill="none" stroke="#000" stroke-width="4.6"/>
<rect x="1125.5" y="670.0" width="59" height="9.5" fill="none" stroke="#000" stroke-width="2.6"/>
<path d="M1155,660.8 L1155,682" fill="none" stroke="#000" stroke-width="5.5"/>
<path d="M1142.5,660.8 L1167.5,660.8 M1142.5,682 L1167.5,682" fill="none" stroke="#000" stroke-width="4.6"/>
<rect x="1324.5" y="679.5" width="59" height="32.7" fill="none" stroke="#000" stroke-width="2.6"/>
<path d="M1354,697.5 L1354,725" fill="none" stroke="#000" stroke-width="5.5"/>
<path d="M1341.5,697.5 L1366.5,697.5 M1341.5,725 L1366.5,725" fill="none" stroke="#000" stroke-width="4.6"/>
<rect x="856" y="382" width="596.7" height="595.0" fill="none" stroke="#a8a8a8" stroke-width="2"/>
<line x1="856" y1="977.0" x2="862" y2="977.0" stroke="#a8a8a8" stroke-width="1.5"/>
<line x1="1452.7" y1="977.0" x2="1446.7" y2="977.0" stroke="#a8a8a8" stroke-width="1.5"/>
<text x="846.0" y="989.5" font-family='"Liberation Serif", serif' font-size="37" font-weight="normal" text-anchor="end" fill="#000" >-5</text>
<line x1="856" y1="917.5" x2="862" y2="917.5" stroke="#a8a8a8" stroke-width="1.5"/>
<line x1="1452.7" y1="917.5" x2="1446.7" y2="917.5" stroke="#a8a8a8" stroke-width="1.5"/>
<text x="846.0" y="930.0" font-family='"Liberation Serif", serif' font-size="37" font-weight="normal" text-anchor="end" fill="#000" >-4</text>
<line x1="856" y1="858.0" x2="862" y2="858.0" stroke="#a8a8a8" stroke-width="1.5"/>
<line x1="1452.7" y1="858.0" x2="1446.7" y2="858.0" stroke="#a8a8a8" stroke-width="1.5"/>
<text x="846.0" y="870.5" font-family='"Liberation Serif", serif' font-size="37" font-weight="normal" text-anchor="end" fill="#000" >-3</text>
<line x1="856" y1="798.5" x2="862" y2="798.5" stroke="#a8a8a8" stroke-width="1.5"/>
<line x1="1452.7" y1="798.5" x2="1446.7" y2="798.5" stroke="#a8a8a8" stroke-width="1.5"/>
<text x="846.0" y="811.0" font-family='"Liberation Serif", serif' font-size="37" font-weight="normal" text-anchor="end" fill="#000" >-2</text>
<line x1="856" y1="739.0" x2="862" y2="739.0" stroke="#a8a8a8" stroke-width="1.5"/>
<line x1="1452.7" y1="739.0" x2="1446.7" y2="739.0" stroke="#a8a8a8" stroke-width="1.5"/>
<text x="846.0" y="751.5" font-family='"Liberation Serif", serif' font-size="37" font-weight="normal" text-anchor="end" fill="#000" >-1</text>
<line x1="856" y1="679.5" x2="862" y2="679.5" stroke="#a8a8a8" stroke-width="1.5"/>
<line x1="1452.7" y1="679.5" x2="1446.7" y2="679.5" stroke="#a8a8a8" stroke-width="1.5"/>
<text x="846.0" y="692.0" font-family='"Liberation Serif", serif' font-size="37" font-weight="normal" text-anchor="end" fill="#000" >0</text>
<line x1="856" y1="620.0" x2="862" y2="620.0" stroke="#a8a8a8" stroke-width="1.5"/>
<line x1="1452.7" y1="620.0" x2="1446.7" y2="620.0" stroke="#a8a8a8" stroke-width="1.5"/>
<text x="846.0" y="632.5" font-family='"Liberation Serif", serif' font-size="37" font-weight="normal" text-anchor="end" fill="#000" >1</text>
<line x1="856" y1="560.5" x2="862" y2="560.5" stroke="#a8a8a8" stroke-width="1.5"/>
<line x1="1452.7" y1="560.5" x2="1446.7" y2="560.5" stroke="#a8a8a8" stroke-width="1.5"/>
<text x="846.0" y="573.0" font-family='"Liberation Serif", serif' font-size="37" font-weight="normal" text-anchor="end" fill="#000" >2</text>
<line x1="856" y1="501.0" x2="862" y2="501.0" stroke="#a8a8a8" stroke-width="1.5"/>
<line x1="1452.7" y1="501.0" x2="1446.7" y2="501.0" stroke="#a8a8a8" stroke-width="1.5"/>
<text x="846.0" y="513.5" font-family='"Liberation Serif", serif' font-size="37" font-weight="normal" text-anchor="end" fill="#000" >3</text>
<line x1="856" y1="441.5" x2="862" y2="441.5" stroke="#a8a8a8" stroke-width="1.5"/>
<line x1="1452.7" y1="441.5" x2="1446.7" y2="441.5" stroke="#a8a8a8" stroke-width="1.5"/>
<text x="846.0" y="454.0" font-family='"Liberation Serif", serif' font-size="37" font-weight="normal" text-anchor="end" fill="#000" >4</text>
<line x1="856" y1="382.0" x2="862" y2="382.0" stroke="#a8a8a8" stroke-width="1.5"/>
<line x1="1452.7" y1="382.0" x2="1446.7" y2="382.0" stroke="#a8a8a8" stroke-width="1.5"/>
<text x="846.0" y="394.5" font-family='"Liberation Serif", serif' font-size="37" font-weight="normal" text-anchor="end" fill="#000" >5</text>
<line x1="956" y1="382" x2="956" y2="388" stroke="#a8a8a8" stroke-width="1.5"/>
<line x1="956" y1="977" x2="956" y2="971" stroke="#a8a8a8" stroke-width="1.5"/>
<line x1="1155" y1="382" x2="1155" y2="388" stroke="#a8a8a8" stroke-width="1.5"/>
<line x1="1155" y1="977" x2="1155" y2="971" stroke="#a8a8a8" stroke-width="1.5"/>
<line x1="1354" y1="382" x2="1354" y2="388" stroke="#a8a8a8" stroke-width="1.5"/>
<line x1="1354" y1="977" x2="1354" y2="971" stroke="#a8a8a8" stroke-width="1.5"/>
<text x="0" y="0" font-family='"Liberation Serif", serif' font-size="40.5" text-anchor="middle" transform="translate(803.5,679) rotate(-90)">average over cluster (dB)</text>
<line x1="956" y1="425.3" x2="1353.6" y2="425.3" stroke="#777" stroke-width="3"/>
<line x1="956" y1="447.5" x2="1154" y2="447.5" stroke="#333" stroke-width="3"/>
<line x1="1157" y1="453.4" x2="1353.6" y2="453.4" stroke="#333" stroke-width="3"/>
<text x="1164.0" y="430.0" font-family='"Liberation Serif", serif' font-size="34" font-weight="normal" text-anchor="middle" fill="#000" >*</text>
<text x="1259.0" y="457.5" font-family='"Liberation Serif", serif' font-size="34" font-weight="normal" text-anchor="middle" fill="#000" >*</text>
<text x="1069.0" y="447.0" font-family='"Liberation Serif", serif' font-size="34" font-weight="normal" text-anchor="middle" fill="#000" >n.s.</text>
<text x="967.8" y="1030.3" font-family='"Liberation Sans", sans-serif' font-size="40" font-weight="normal" text-anchor="middle" textLength="180.5" lengthAdjust="spacingAndGlyphs">PLEASANT</text>
<text x="1162.5" y="1030.3" font-family='"Liberation Sans", sans-serif' font-size="40" font-weight="normal" text-anchor="middle" textLength="160.0" lengthAdjust="spacingAndGlyphs">NEUTRAL</text>
<text x="1378.2" y="1030.3" font-family='"Liberation Sans", sans-serif' font-size="40" font-weight="normal" text-anchor="middle" textLength="235.5" lengthAdjust="spacingAndGlyphs">UNPLEASANT</text>
<rect x="910" y="1050" width="140" height="6" fill="#cc1018"/>
<rect x="1111" y="1050" width="138" height="6" fill="#a0a0a0"/>
<rect x="1312" y="1050" width="139" height="6" fill="#5a90c8"/></svg></body></html>
